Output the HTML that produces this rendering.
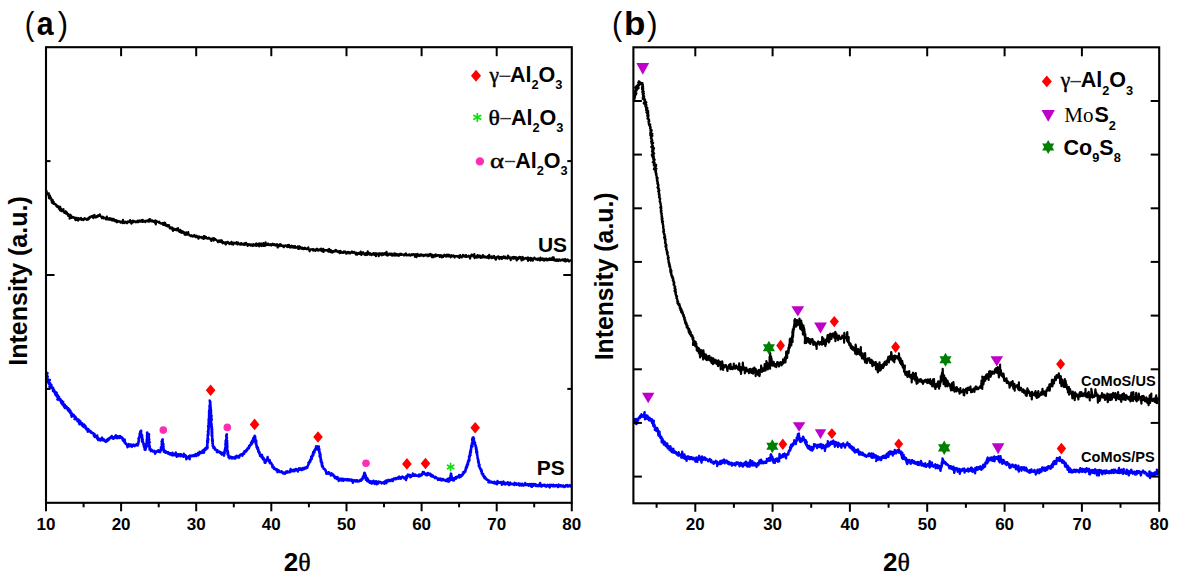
<!DOCTYPE html>
<html><head><meta charset="utf-8"><title>XRD</title>
<style>html,body{margin:0;padding:0;background:#fff;width:1184px;height:585px;overflow:hidden}svg{display:block}</style>
</head><body>
<svg width="1184" height="585" viewBox="0 0 1184 585">
<rect width="100%" height="100%" fill="#fff"/>
<defs><clipPath id="ca"><rect x="46.0" y="47.2" width="525.8" height="455.6"/></clipPath><clipPath id="cb"><rect x="633.4" y="47.3" width="525.8" height="456.0"/></clipPath></defs>
<path clip-path="url(#ca)" d="M45.7 192.1L46.7 191.2L46.6 192.2L46.5 192.8L47.3 193.4L48.9 193.3L47.7 193.7L47.6 194.3L48.1 193.9L48.5 193.7L48.8 194.7L48.7 195.0L48.5 193.7L48.9 196.8L50.0 195.5L49.1 196.9L49.1 196.1L48.9 197.8L49.8 197.1L49.5 197.7L50.0 196.9L50.9 197.6L50.0 198.5L50.9 198.5L49.4 198.5L51.5 199.0L51.3 200.6L51.3 200.1L51.6 200.9L52.8 200.3L52.3 202.8L51.8 202.5L52.5 199.8L53.2 202.7L53.7 202.1L53.7 201.8L52.9 201.8L53.8 203.1L53.4 201.9L53.2 203.5L53.8 203.9L54.8 203.8L55.3 203.9L55.5 204.0L55.5 204.0L55.2 204.5L56.1 204.8L56.5 204.8L56.2 206.0L56.2 204.8L57.2 206.2L58.2 206.6L57.5 205.9L57.2 207.0L57.7 206.4L59.2 206.7L60.2 206.8L60.1 206.7L58.8 208.7L59.6 208.0L60.0 210.4L59.8 207.8L60.1 210.5L60.9 208.5L60.2 208.8L61.6 210.1L61.3 209.1L61.5 210.0L63.5 209.2L62.6 210.0L61.4 211.1L62.3 211.2L63.1 211.2L63.7 211.3L64.8 211.6L63.6 211.7L65.6 211.2L64.4 212.9L65.0 211.7L65.9 213.2L65.2 212.6L65.4 212.6L66.5 212.8L66.0 213.6L66.9 212.3L66.9 213.6L67.4 214.0L67.7 214.9L67.9 213.8L69.0 214.6L68.0 215.3L68.3 215.9L68.9 215.1L69.1 215.7L70.1 215.4L69.8 216.0L69.6 218.6L71.1 216.5L70.3 214.7L71.7 216.6L71.5 216.7L71.5 217.5L70.8 216.1L72.7 216.9L71.5 218.0L73.5 217.0L73.0 217.1L73.8 217.6L74.0 218.0L75.2 217.6L74.3 218.2L74.6 218.2L75.2 219.2L75.5 220.2L75.9 218.2L76.2 218.7L76.6 217.8L77.0 219.8L77.3 219.6L77.7 218.8L78.1 220.6L78.5 218.1L78.8 219.0L79.2 219.3L79.6 218.6L79.9 218.5L80.3 219.4L80.7 218.2L81.0 217.8L81.4 219.2L81.8 219.9L82.1 219.1L82.5 219.5L82.8 219.2L83.2 218.9L83.5 220.1L83.9 218.7L84.2 218.7L84.6 218.1L85.0 219.0L85.3 218.9L85.7 218.6L86.0 219.1L86.4 219.6L86.7 219.8L87.1 218.8L87.4 219.6L87.8 219.6L88.1 219.1L88.5 217.8L88.8 219.1L89.1 218.1L89.4 217.4L89.7 216.8L90.0 217.3L90.2 217.6L90.5 216.6L90.8 216.9L91.1 217.0L91.4 216.4L91.7 216.7L92.0 216.2L92.4 215.8L92.7 215.8L93.1 217.8L93.4 218.0L93.8 216.2L94.1 215.1L94.5 214.8L94.8 217.1L95.2 216.2L95.5 216.9L95.9 217.5L96.3 216.8L96.6 216.1L97.0 216.7L97.3 216.4L97.7 216.8L98.0 215.3L98.4 215.4L98.7 215.7L99.1 216.0L99.4 215.8L99.8 214.4L100.1 215.1L100.4 216.2L100.7 216.2L101.1 216.6L101.4 217.1L101.7 216.8L102.0 218.2L102.4 216.9L102.7 216.7L103.0 217.6L103.4 217.3L103.7 218.5L104.0 217.5L104.3 218.3L104.7 218.0L105.0 217.8L105.4 218.5L105.7 218.6L106.1 219.4L106.4 217.9L106.8 216.5L107.1 219.1L107.5 219.4L107.8 218.9L108.2 218.5L108.5 219.0L108.9 218.6L109.2 219.8L109.6 219.2L109.9 218.1L110.3 219.4L110.6 218.7L111.0 218.9L111.3 220.2L111.7 220.3L112.0 218.7L112.4 219.1L112.8 219.7L113.1 220.7L113.5 219.7L113.8 219.0L114.2 220.5L114.5 220.5L114.8 220.0L115.2 221.4L115.5 220.9L115.9 220.1L116.2 221.5L116.6 221.4L117.0 222.3L117.3 221.6L117.7 220.7L118.0 221.4L118.4 221.1L118.7 221.7L119.1 221.1L119.4 221.3L119.8 221.6L120.1 221.4L120.5 222.6L120.8 222.0L121.2 221.7L121.5 221.7L121.9 222.6L122.3 222.4L122.6 223.0L123.0 219.8L123.3 222.8L123.7 222.3L124.0 223.2L124.4 222.4L124.7 222.0L125.1 222.4L125.5 221.6L125.8 221.9L126.2 222.8L126.5 223.1L126.9 222.9L127.2 223.2L127.6 222.6L127.9 221.3L128.3 221.3L128.6 221.9L129.0 221.7L129.4 221.6L129.7 222.1L130.1 220.2L130.4 221.9L130.8 221.3L131.1 223.0L131.5 223.6L131.8 222.1L132.2 220.8L132.6 222.5L132.9 222.1L133.3 220.7L133.7 222.1L134.0 221.4L134.4 221.2L134.8 221.6L135.2 221.7L135.5 221.3L135.9 222.3L136.3 221.5L136.6 222.2L137.0 221.5L137.4 221.9L137.7 220.6L138.1 222.2L138.4 221.1L138.8 222.0L139.1 220.9L139.5 220.5L139.8 220.9L140.2 220.8L140.6 221.5L140.9 220.6L141.3 220.2L141.6 221.0L142.0 220.1L142.3 222.0L142.7 219.8L143.0 221.8L143.4 221.5L143.7 221.0L144.1 220.8L144.5 221.2L144.8 221.2L145.2 222.2L145.5 220.9L145.9 221.1L146.2 220.9L146.6 220.7L146.9 221.1L147.3 221.4L147.6 220.4L148.0 220.3L148.4 220.6L148.7 221.6L149.1 220.6L149.4 219.1L149.8 221.4L150.1 220.4L150.5 219.4L150.8 220.6L151.2 221.1L151.5 221.3L151.9 221.3L152.2 221.4L152.6 220.4L152.9 220.9L153.3 221.8L153.6 221.1L154.0 221.4L154.3 221.5L154.7 222.1L155.0 223.0L155.4 220.4L155.8 224.4L156.1 220.8L156.4 221.4L156.8 222.0L157.1 222.0L157.5 221.5L157.8 221.8L158.2 222.1L158.6 222.0L158.9 222.7L159.3 221.7L159.6 222.5L160.0 223.1L160.3 223.0L160.7 223.3L161.0 223.7L161.4 223.3L161.7 223.6L162.1 223.2L162.4 223.2L162.8 223.1L163.1 224.9L163.5 224.7L163.8 223.2L164.2 222.7L164.5 224.9L164.8 225.2L165.1 222.9L165.5 224.9L165.8 225.5L166.1 224.6L166.4 225.4L166.7 226.0L167.0 225.0L167.3 225.1L167.6 226.2L168.0 226.5L168.3 226.4L168.6 226.5L168.9 225.1L169.2 226.2L169.5 226.8L169.8 228.4L170.2 227.2L170.5 227.3L170.8 228.3L171.1 228.2L171.4 227.9L171.7 228.0L172.0 227.5L172.3 229.6L172.7 228.1L173.0 230.9L173.3 228.4L173.6 229.3L174.0 228.6L174.3 228.9L174.7 229.8L175.1 229.2L175.4 229.5L175.8 230.0L176.2 228.9L176.5 229.5L176.9 230.3L177.3 228.7L177.6 230.2L178.0 228.2L178.3 230.0L178.7 231.2L179.0 231.4L179.3 230.4L179.7 232.0L180.0 230.6L180.3 229.8L180.7 231.9L181.0 231.2L181.3 232.9L181.6 231.1L182.0 231.0L182.3 232.3L182.6 232.0L183.0 232.9L183.3 232.8L183.6 231.7L184.0 232.4L184.3 232.4L184.6 234.7L184.9 233.9L185.3 233.5L185.6 233.1L185.9 234.9L186.2 232.4L186.6 234.3L186.9 233.4L187.2 233.6L187.6 234.7L187.9 232.8L188.2 232.1L188.5 233.9L188.9 234.5L189.2 234.9L189.5 235.4L189.9 235.3L190.2 235.5L190.5 236.0L190.9 235.3L191.2 235.2L191.6 236.0L191.9 236.0L192.2 236.5L192.6 235.8L192.9 235.7L193.2 236.1L193.6 236.4L193.9 235.9L194.3 234.9L194.6 236.1L195.0 236.7L195.3 236.7L195.7 237.0L196.0 235.9L196.4 236.4L196.7 235.7L197.1 236.3L197.4 237.4L197.8 236.9L198.2 237.0L198.5 238.7L198.9 236.4L199.2 236.5L199.6 237.3L199.9 237.4L200.3 237.3L200.6 237.1L201.0 236.9L201.4 237.6L201.7 237.6L202.1 238.2L202.4 237.4L202.8 238.3L203.1 236.8L203.5 238.8L203.8 236.1L204.2 236.7L204.6 236.2L204.9 238.3L205.3 237.1L205.6 237.6L206.0 236.9L206.3 237.4L206.7 238.2L207.0 238.5L207.4 238.2L207.7 238.7L208.1 238.1L208.5 238.5L208.8 237.7L209.2 238.0L209.5 238.4L209.9 238.4L210.3 239.3L210.6 239.7L211.0 239.2L211.4 241.0L211.7 239.0L212.1 238.4L212.4 238.6L212.8 239.0L213.1 238.5L213.5 238.2L213.8 240.6L214.2 239.0L214.5 238.4L214.9 239.2L215.2 239.3L215.5 239.2L215.9 239.9L216.2 240.1L216.6 240.3L216.9 240.4L217.3 241.0L217.6 241.2L217.9 242.1L218.3 240.8L218.6 241.4L219.0 240.3L219.3 240.7L219.6 241.2L220.0 242.0L220.3 241.1L220.6 240.6L221.0 240.2L221.3 241.4L221.7 242.3L222.0 240.5L222.3 242.6L222.7 243.3L223.0 243.1L223.3 242.2L223.7 242.2L224.0 243.0L224.4 242.9L224.7 243.3L225.1 242.8L225.4 242.3L225.8 244.5L226.1 242.4L226.5 243.3L226.8 243.0L227.2 242.7L227.5 241.9L227.9 241.9L228.2 242.9L228.6 243.3L229.0 243.5L229.3 244.0L229.7 243.0L230.0 243.8L230.4 243.3L230.7 243.1L231.1 243.0L231.4 241.8L231.8 244.2L232.2 243.2L232.5 242.6L232.9 242.8L233.2 244.7L233.6 242.8L233.9 242.8L234.3 243.4L234.6 243.2L235.0 242.7L235.4 243.2L235.7 243.6L236.1 243.4L236.4 243.3L236.8 242.2L237.1 244.1L237.5 244.5L237.8 243.9L238.2 242.6L238.5 243.2L238.9 243.6L239.3 244.0L239.6 244.4L240.0 244.6L240.3 244.3L240.7 243.5L241.0 244.6L241.4 243.1L241.7 243.8L242.1 244.2L242.4 243.8L242.8 244.5L243.2 243.8L243.5 244.6L243.9 244.0L244.2 245.0L244.6 243.2L244.9 243.5L245.3 244.6L245.6 244.1L246.0 242.9L246.3 244.3L246.7 243.6L247.0 243.9L247.3 243.9L247.7 246.0L248.0 244.6L248.3 244.1L248.7 244.4L249.0 244.6L249.4 244.4L249.7 245.2L250.0 244.4L250.4 244.6L250.7 245.6L251.1 244.4L251.4 245.0L251.8 244.9L252.1 245.3L252.5 245.7L252.8 246.0L253.2 244.1L253.5 245.4L253.9 245.0L254.2 245.4L254.6 245.1L255.0 244.5L255.3 245.5L255.7 244.4L256.0 243.6L256.4 245.9L256.7 243.6L257.1 244.8L257.4 245.4L257.8 244.2L258.2 244.6L258.5 245.1L258.9 243.5L259.2 246.3L259.6 245.3L259.9 243.4L260.3 245.3L260.6 244.1L261.0 244.8L261.4 246.0L261.7 243.6L262.1 245.4L262.4 244.1L262.8 245.6L263.1 245.8L263.5 243.0L263.8 244.8L264.2 245.9L264.5 244.7L264.9 243.8L265.3 245.6L265.6 242.4L266.0 244.4L266.3 244.4L266.7 244.5L267.0 245.1L267.4 244.0L267.7 244.9L268.1 243.6L268.4 244.5L268.8 244.7L269.2 245.2L269.5 244.5L269.9 244.3L270.2 244.2L270.6 245.2L270.9 244.3L271.3 245.5L271.6 244.8L272.0 245.1L272.4 244.6L272.7 243.7L273.1 244.8L273.4 244.7L273.8 244.8L274.1 245.2L274.5 244.2L274.8 244.3L275.2 244.7L275.6 245.5L275.9 244.9L276.3 245.1L276.6 244.7L277.0 244.2L277.3 245.4L277.7 247.5L278.0 245.1L278.4 246.4L278.7 244.8L279.1 244.7L279.5 246.2L279.8 245.5L280.2 244.2L280.5 244.9L280.9 244.5L281.2 245.8L281.6 245.9L281.9 246.0L282.3 246.0L282.6 246.2L283.0 245.5L283.4 246.0L283.7 247.2L284.1 246.7L284.4 245.9L284.8 245.9L285.1 245.4L285.5 245.5L285.8 245.9L286.2 245.6L286.6 246.5L286.9 246.5L287.2 247.0L287.6 245.0L287.9 246.6L288.3 247.0L288.6 246.9L289.0 244.8L289.3 246.9L289.7 245.8L290.1 247.6L290.4 247.5L290.8 246.1L291.1 245.9L291.4 247.0L291.8 245.7L292.1 247.4L292.5 246.3L292.8 246.9L293.2 247.2L293.6 247.7L293.9 246.0L294.3 247.6L294.6 246.9L295.0 246.1L295.3 246.9L295.7 247.8L296.0 247.5L296.4 247.4L296.8 247.5L297.1 247.6L297.5 247.8L297.8 246.4L298.2 248.9L298.5 248.9L298.9 247.1L299.2 246.3L299.6 248.6L299.9 247.6L300.3 247.0L300.6 247.9L301.0 247.3L301.3 248.4L301.7 248.9L302.0 248.6L302.4 247.7L302.7 247.8L303.0 248.6L303.4 249.2L303.7 248.7L304.1 248.7L304.4 247.9L304.8 248.9L305.1 247.8L305.5 248.6L305.8 248.4L306.2 248.6L306.5 249.1L306.9 249.2L307.2 248.4L307.6 249.2L307.9 249.2L308.3 247.4L308.6 249.2L309.0 249.5L309.3 250.2L309.7 251.3L310.1 249.5L310.4 249.3L310.8 249.5L311.1 249.4L311.5 249.5L311.8 249.4L312.2 249.2L312.5 250.2L312.9 249.8L313.2 250.7L313.6 249.0L313.9 249.7L314.3 249.9L314.6 250.4L315.0 250.2L315.4 250.8L315.7 249.9L316.1 249.2L316.4 250.2L316.8 249.8L317.1 248.7L317.5 250.1L317.9 250.1L318.2 250.7L318.6 250.1L318.9 249.4L319.3 249.4L319.7 250.1L320.0 250.1L320.4 250.4L320.7 249.0L321.1 248.6L321.5 249.6L321.8 250.4L322.2 251.4L322.5 249.6L322.9 250.4L323.2 248.9L323.6 251.9L323.9 249.7L324.3 249.8L324.6 250.7L325.0 250.5L325.3 250.5L325.7 250.1L326.0 250.0L326.4 250.5L326.7 250.6L327.1 250.2L327.4 249.9L327.8 249.8L328.1 251.2L328.5 251.6L328.8 249.9L329.2 249.0L329.5 250.3L329.9 249.8L330.2 252.0L330.6 252.1L330.9 250.0L331.3 250.7L331.6 251.4L332.0 250.8L332.3 252.6L332.7 251.0L333.0 252.2L333.4 251.0L333.7 251.4L334.1 251.4L334.4 251.2L334.8 251.5L335.1 251.1L335.5 250.0L335.8 251.2L336.1 250.1L336.5 251.1L336.8 250.7L337.2 251.6L337.5 251.9L337.9 251.7L338.2 251.7L338.6 252.0L338.9 251.1L339.3 252.3L339.6 253.2L340.0 252.2L340.3 250.8L340.7 251.3L341.0 252.9L341.4 252.0L341.7 252.5L342.1 252.2L342.4 252.5L342.8 252.3L343.1 252.9L343.5 252.1L343.8 251.5L344.2 252.3L344.5 251.6L344.9 251.3L345.2 252.0L345.6 253.2L345.9 252.1L346.3 253.7L346.6 252.3L347.0 252.3L347.3 252.7L347.7 253.1L348.0 251.8L348.4 252.2L348.7 252.2L349.1 253.1L349.4 253.0L349.8 252.2L350.1 253.5L350.5 252.6L350.8 252.7L351.2 252.6L351.5 252.3L351.9 251.5L352.2 252.7L352.6 252.8L352.9 252.8L353.3 252.5L353.6 252.7L354.0 251.8L354.3 252.7L354.7 252.5L355.0 252.7L355.4 253.3L355.8 254.5L356.1 252.6L356.5 253.0L356.8 253.1L357.2 254.7L357.5 253.4L357.9 253.7L358.2 253.1L358.6 252.8L358.9 253.9L359.3 252.9L359.6 253.9L360.0 252.9L360.3 253.2L360.7 251.5L361.0 252.7L361.4 255.0L361.7 253.4L362.1 252.8L362.4 252.6L362.8 253.7L363.2 252.2L363.5 253.4L363.9 253.2L364.2 253.8L364.6 254.7L364.9 254.1L365.3 255.1L365.6 254.5L366.0 253.1L366.3 254.1L366.7 254.6L367.0 254.9L367.4 254.2L367.7 251.4L368.1 254.2L368.4 252.4L368.8 254.0L369.1 254.2L369.5 254.5L369.8 253.8L370.2 253.2L370.5 254.7L370.9 253.8L371.3 254.2L371.6 255.2L372.0 254.1L372.3 254.0L372.7 253.7L373.0 254.4L373.4 253.0L373.7 254.3L374.1 253.6L374.4 254.9L374.8 253.4L375.1 254.2L375.5 253.5L375.9 256.1L376.2 253.4L376.6 253.3L376.9 253.4L377.3 254.2L377.6 254.1L378.0 254.5L378.3 254.1L378.7 256.2L379.0 253.4L379.4 255.3L379.7 253.4L380.1 253.6L380.5 254.4L380.8 253.7L381.2 253.8L381.5 253.3L381.9 255.4L382.2 253.3L382.6 254.4L382.9 253.8L383.3 253.5L383.6 254.8L384.0 254.3L384.3 253.9L384.7 253.2L385.0 253.8L385.4 254.6L385.8 254.7L386.1 253.7L386.5 251.8L386.8 255.1L387.2 255.6L387.5 255.4L387.9 254.8L388.2 253.7L388.6 255.2L388.9 254.6L389.3 254.7L389.6 253.6L390.0 254.3L390.4 253.6L390.7 254.2L391.1 255.1L391.4 255.3L391.8 253.6L392.1 254.6L392.5 254.7L392.8 255.6L393.2 255.4L393.5 254.7L393.9 254.8L394.2 253.4L394.6 255.2L395.0 255.6L395.3 253.9L395.7 253.7L396.0 253.9L396.4 255.3L396.7 254.1L397.1 254.3L397.4 255.4L397.8 254.6L398.1 254.3L398.5 254.3L398.8 255.8L399.2 254.6L399.5 255.1L399.9 253.8L400.2 254.9L400.6 253.8L400.9 254.3L401.3 253.9L401.6 254.9L402.0 254.2L402.3 254.7L402.7 254.7L403.1 254.5L403.4 254.7L403.8 255.3L404.1 254.6L404.5 255.3L404.8 255.1L405.2 253.8L405.5 254.1L405.9 253.4L406.2 254.6L406.6 255.5L406.9 255.4L407.3 255.0L407.6 255.1L408.0 254.7L408.3 254.6L408.7 254.9L409.0 255.3L409.4 254.3L409.7 254.6L410.1 254.7L410.5 255.7L410.8 255.4L411.2 254.9L411.5 254.4L411.9 254.8L412.2 254.2L412.6 255.2L412.9 254.4L413.3 254.1L413.6 254.6L414.0 254.2L414.3 254.9L414.7 255.2L415.0 256.8L415.4 254.3L415.7 255.4L416.1 254.3L416.4 257.2L416.8 255.0L417.1 254.9L417.5 253.8L417.8 255.8L418.2 255.0L418.6 255.7L418.9 255.4L419.3 256.0L419.6 254.9L420.0 254.8L420.3 254.4L420.7 255.8L421.0 254.9L421.4 254.4L421.7 254.7L422.1 255.3L422.4 255.3L422.8 255.3L423.2 254.9L423.5 256.2L423.9 255.6L424.2 255.2L424.6 255.6L424.9 255.6L425.3 254.6L425.6 254.9L426.0 255.0L426.3 255.5L426.7 255.0L427.0 254.6L427.4 254.5L427.8 254.7L428.1 256.3L428.5 255.6L428.8 254.6L429.2 255.8L429.5 255.0L429.9 254.8L430.2 253.9L430.6 255.0L430.9 254.3L431.3 255.1L431.6 256.5L432.0 257.2L432.3 254.9L432.7 256.5L433.1 255.8L433.4 257.2L433.8 256.4L434.1 255.2L434.5 255.0L434.8 255.6L435.2 256.4L435.5 255.1L435.9 254.4L436.2 255.0L436.6 255.4L436.9 256.0L437.3 255.6L437.7 255.0L438.0 255.1L438.4 255.3L438.7 255.2L439.1 255.8L439.4 255.4L439.8 256.9L440.1 255.3L440.5 256.6L440.8 255.2L441.2 255.5L441.5 256.8L441.9 257.4L442.3 255.9L442.6 256.5L443.0 255.6L443.3 256.9L443.7 256.0L444.0 255.2L444.4 254.7L444.7 255.8L445.1 256.0L445.4 255.7L445.8 256.4L446.1 256.6L446.5 254.9L446.8 256.2L447.2 255.6L447.5 254.7L447.9 255.2L448.2 256.5L448.6 255.5L448.9 254.7L449.3 256.1L449.6 256.0L450.0 256.3L450.4 256.4L450.7 257.3L451.1 255.2L451.4 255.3L451.8 256.4L452.1 256.1L452.5 255.9L452.8 256.4L453.2 256.2L453.5 255.4L453.9 256.1L454.2 256.8L454.6 257.5L454.9 256.2L455.3 256.2L455.6 256.5L456.0 256.5L456.3 255.9L456.7 256.2L457.0 256.1L457.4 256.6L457.8 256.2L458.1 256.2L458.5 257.4L458.8 256.9L459.2 255.7L459.5 257.8L459.9 256.4L460.2 255.1L460.6 256.6L460.9 256.3L461.3 256.3L461.6 257.5L462.0 256.6L462.3 256.1L462.7 256.7L463.0 254.8L463.4 256.1L463.7 255.7L464.1 256.4L464.4 256.5L464.8 256.3L465.1 255.3L465.5 257.0L465.9 256.9L466.2 255.2L466.6 256.8L466.9 256.8L467.3 256.7L467.6 256.5L468.0 256.6L468.3 256.3L468.7 255.7L469.0 256.3L469.4 256.2L469.7 256.5L470.1 258.6L470.5 256.6L470.8 255.9L471.2 256.1L471.5 254.5L471.9 255.6L472.2 255.2L472.6 255.5L472.9 255.8L473.3 256.6L473.6 254.5L474.0 256.0L474.3 254.2L474.7 258.1L475.1 256.4L475.4 256.4L475.8 256.7L476.1 256.4L476.5 257.6L476.8 257.4L477.2 256.8L477.5 255.2L477.9 257.4L478.2 256.1L478.6 256.8L478.9 255.5L479.3 256.3L479.6 255.8L480.0 255.6L480.4 257.8L480.7 257.0L481.1 256.8L481.4 257.0L481.8 257.7L482.1 256.1L482.5 256.0L482.8 255.1L483.2 257.1L483.5 255.5L483.9 256.3L484.2 257.4L484.6 257.0L485.0 256.8L485.3 256.7L485.7 257.4L486.0 256.7L486.4 257.6L486.7 257.0L487.1 257.1L487.4 257.5L487.8 256.1L488.1 256.8L488.5 257.5L488.8 258.4L489.2 254.9L489.6 257.4L489.9 256.4L490.3 257.4L490.6 257.3L491.0 256.8L491.3 257.4L491.7 258.2L492.0 256.4L492.4 257.1L492.7 257.1L493.1 256.7L493.4 257.7L493.8 256.6L494.1 256.0L494.5 256.9L494.8 258.1L495.2 257.3L495.5 259.4L495.9 259.7L496.2 258.4L496.6 257.4L496.9 257.0L497.3 257.6L497.7 256.7L498.0 256.5L498.4 256.4L498.7 257.5L499.1 258.4L499.4 259.0L499.8 257.0L500.1 257.7L500.5 257.1L500.8 258.0L501.2 257.0L501.5 257.7L501.9 259.0L502.2 257.1L502.6 258.3L502.9 257.3L503.3 257.3L503.6 256.4L504.0 258.0L504.3 257.4L504.7 257.1L505.1 256.6L505.4 258.4L505.8 258.1L506.1 257.9L506.5 257.7L506.8 258.2L507.2 257.3L507.5 258.6L507.9 255.6L508.2 256.9L508.6 256.4L508.9 257.4L509.3 257.8L509.6 257.6L510.0 258.7L510.3 257.6L510.7 260.2L511.0 257.6L511.4 258.0L511.7 257.8L512.1 257.4L512.4 257.7L512.8 257.1L513.2 258.8L513.5 256.9L513.9 257.1L514.2 257.4L514.6 258.4L514.9 257.1L515.3 258.3L515.6 257.4L516.0 257.2L516.3 259.0L516.7 260.5L517.0 258.2L517.4 258.1L517.8 257.6L518.1 259.1L518.5 257.7L518.8 258.3L519.2 257.8L519.5 256.8L519.9 257.4L520.2 258.3L520.6 257.1L520.9 258.5L521.3 258.6L521.6 260.5L522.0 257.6L522.4 257.8L522.7 257.0L523.1 257.6L523.4 259.6L523.8 258.8L524.1 259.1L524.5 258.4L524.8 258.5L525.2 258.5L525.5 257.9L525.9 258.5L526.2 258.3L526.6 258.8L526.9 258.6L527.3 257.6L527.7 259.1L528.0 260.9L528.4 257.7L528.7 259.4L529.1 259.9L529.4 259.7L529.8 259.6L530.1 258.9L530.5 257.8L530.8 260.6L531.2 258.2L531.5 258.4L531.9 258.6L532.3 259.7L532.6 258.9L533.0 260.7L533.3 258.4L533.7 259.2L534.0 258.7L534.4 257.6L534.7 258.7L535.1 258.8L535.4 258.6L535.8 258.8L536.1 259.5L536.5 259.2L536.9 258.8L537.2 259.1L537.6 260.1L537.9 258.7L538.3 258.4L538.6 259.5L539.0 259.2L539.3 259.3L539.7 260.2L540.0 260.5L540.4 257.6L540.7 259.1L541.1 258.9L541.4 259.3L541.8 259.8L542.1 259.6L542.5 258.4L542.8 259.0L543.2 260.3L543.5 258.9L543.9 259.1L544.2 260.6L544.6 258.8L544.9 260.3L545.3 258.9L545.6 259.5L546.0 259.2L546.3 258.6L546.7 260.2L547.0 260.4L547.4 259.2L547.7 259.0L548.1 260.1L548.4 259.5L548.8 259.0L549.1 259.9L549.5 258.4L549.8 259.2L550.2 259.9L550.5 259.9L550.9 259.5L551.2 258.5L551.6 259.4L551.9 259.9L552.3 259.8L552.6 257.3L553.0 259.9L553.3 260.0L553.7 257.3L554.0 259.8L554.4 260.2L554.7 259.4L555.1 260.8L555.4 259.7L555.8 260.1L556.1 259.7L556.5 260.9L556.8 259.4L557.2 259.9L557.5 259.7L557.9 260.2L558.2 261.0L558.6 259.5L558.9 260.1L559.3 259.9L559.6 259.4L560.0 260.7L560.3 260.7L560.7 260.6L561.0 260.5L561.4 260.1L561.7 259.9L562.1 259.4L562.4 259.8L562.8 260.4L563.1 260.4L563.5 259.4L563.8 260.1L564.2 260.6L564.5 261.1L564.9 260.0L565.2 259.0L565.6 261.3L565.9 259.7L566.3 259.9L566.6 261.2L567.0 260.9L567.3 260.4L567.7 259.5L568.0 259.9L568.4 260.4L568.7 260.6L569.1 261.5L569.4 261.2L569.8 260.9L570.1 260.3L570.5 261.0" fill="none" stroke="#000" stroke-width="2.2" stroke-linejoin="round"/>
<path clip-path="url(#ca)" d="M46.3 372.9L45.3 373.4L47.5 372.9L46.4 373.3L47.5 373.2L46.4 375.8L47.0 374.7L47.0 374.5L46.3 376.0L47.2 375.8L47.8 376.6L46.7 376.2L45.9 377.4L45.8 377.4L47.1 379.1L46.1 378.0L47.3 377.7L47.5 376.4L46.5 380.0L47.0 378.1L47.9 379.2L47.6 379.9L49.9 380.0L48.0 381.5L48.3 380.1L49.1 381.1L48.3 382.4L47.7 382.4L50.2 383.0L48.6 382.3L49.0 383.1L48.9 383.5L48.9 384.0L49.8 384.4L49.5 384.1L50.1 386.4L51.5 384.8L51.3 385.5L51.0 387.3L50.7 386.3L50.3 386.1L51.1 387.0L49.4 386.6L50.4 387.6L52.7 387.4L52.3 388.1L52.7 389.0L52.1 387.9L53.4 388.4L52.7 389.6L52.8 389.2L53.6 390.1L53.0 391.1L54.2 390.1L53.0 389.6L53.2 390.4L54.0 390.8L54.4 391.0L54.8 391.5L55.1 391.8L54.9 391.6L56.7 392.7L54.4 392.5L55.3 392.8L55.5 392.9L55.1 393.8L55.5 394.6L56.1 394.7L56.0 394.3L55.6 395.2L57.0 394.4L58.0 395.5L57.9 395.5L58.0 397.7L57.2 395.7L56.9 396.5L58.2 397.0L56.6 395.2L58.5 398.2L57.6 397.6L59.1 396.9L58.8 397.6L57.4 399.5L59.9 398.6L60.4 399.1L59.2 400.1L60.3 400.6L60.8 400.8L61.2 401.4L60.2 400.2L61.9 401.0L61.3 400.5L60.7 400.0L62.0 402.3L63.3 401.9L61.1 402.1L61.1 402.8L62.4 402.7L62.2 403.3L62.9 402.7L62.5 404.5L63.1 404.4L62.4 403.6L64.8 404.7L62.0 403.9L64.2 405.6L63.6 405.9L64.8 407.9L63.8 404.8L66.0 407.8L66.6 406.6L66.9 407.0L65.2 406.4L65.7 406.5L66.2 407.7L66.6 406.6L65.8 408.0L67.5 408.0L67.2 408.8L68.6 409.3L68.3 408.3L67.5 409.6L68.7 409.2L68.4 410.7L69.3 409.2L69.3 409.4L68.2 410.4L69.0 411.3L70.5 410.8L69.0 411.3L70.5 413.3L69.8 411.1L69.8 412.1L70.7 412.3L70.7 413.3L71.5 412.5L71.6 414.2L71.7 413.4L71.3 415.3L71.6 414.9L72.6 414.8L72.9 414.6L74.0 415.4L73.7 414.7L71.8 416.8L71.5 415.6L71.9 416.4L71.6 416.7L73.2 416.2L74.6 416.8L75.3 416.5L76.7 418.8L75.2 418.4L74.5 419.2L75.9 417.7L75.1 418.9L75.7 418.6L76.1 419.3L77.1 419.5L77.5 419.6L78.1 419.9L78.3 419.4L78.8 421.1L77.4 420.7L77.4 421.2L77.8 420.6L79.2 420.3L80.3 421.1L78.6 421.1L79.4 424.3L80.3 421.6L81.7 423.9L79.9 423.4L80.9 423.7L80.9 423.3L81.6 423.4L82.6 424.8L82.3 424.9L82.2 423.1L82.3 423.9L81.9 425.3L81.4 424.0L83.2 424.4L83.9 425.3L84.6 425.3L82.7 426.3L84.2 424.4L85.4 426.8L85.5 426.3L85.4 425.9L83.9 427.0L85.6 426.5L85.7 427.6L84.9 427.2L86.1 427.3L85.9 427.2L85.5 428.2L87.4 429.4L86.3 429.5L87.8 429.0L87.6 428.8L87.7 431.8L88.7 429.6L87.8 429.7L88.4 429.1L88.1 430.3L90.1 431.4L89.2 431.3L89.6 430.6L89.8 431.7L89.0 431.3L90.8 431.3L91.4 432.1L92.1 432.5L92.0 432.4L91.4 433.0L90.7 432.3L92.9 433.1L92.8 433.4L93.6 434.0L94.5 433.9L93.8 433.6L93.9 435.9L95.0 435.1L94.8 435.6L93.9 434.3L94.6 436.0L94.7 437.0L93.8 435.5L94.7 435.9L96.2 436.4L97.0 437.2L97.2 435.4L96.8 436.6L97.9 437.5L98.2 440.1L97.8 438.8L97.7 437.9L97.8 437.4L96.9 438.4L98.7 439.5L99.4 439.3L98.5 438.4L100.2 440.4L99.2 439.0L100.6 439.1L100.5 440.1L100.8 440.4L101.1 439.9L101.3 438.5L102.0 437.6L102.8 439.5L101.9 439.1L103.0 440.4L103.3 439.8L103.7 440.4L103.8 439.1L104.4 440.0L105.0 441.4L105.1 441.1L105.9 441.9L106.2 440.8L106.6 440.2L106.6 440.5L106.9 439.8L107.5 441.0L108.1 438.8L107.8 439.1L108.0 440.5L108.7 439.7L108.8 439.0L109.0 439.7L109.6 438.6L109.7 437.9L109.3 438.1L110.2 437.7L109.9 438.6L110.7 436.9L111.0 437.5L111.7 435.9L111.9 437.0L112.1 437.7L112.5 438.4L113.1 437.9L113.3 437.1L113.8 438.7L113.9 437.6L114.4 437.7L114.7 437.1L115.4 435.7L116.0 435.2L116.3 436.6L116.3 438.0L116.9 437.1L117.6 438.2L117.3 436.3L117.8 437.3L118.2 436.5L118.7 436.4L119.1 437.5L119.5 437.3L119.4 438.0L119.9 435.9L120.4 436.8L120.5 437.6L121.2 436.9L121.4 437.1L121.8 438.5L121.6 438.4L122.1 437.9L122.2 437.4L122.7 438.3L122.9 439.3L122.8 440.5L123.0 439.8L123.3 440.1L123.4 440.4L124.0 439.7L123.8 441.3L124.2 440.9L124.7 442.5L124.7 439.4L125.0 442.5L124.6 442.7L125.2 442.7L125.6 443.3L125.4 442.7L125.8 444.1L126.0 444.1L125.9 443.4L126.5 444.5L127.0 445.0L127.0 444.7L127.5 447.2L128.5 444.1L128.6 445.4L128.7 446.2L128.7 446.1L128.7 445.4L129.7 445.1L129.6 444.5L130.0 446.2L130.7 445.8L130.9 444.5L131.8 446.9L131.7 445.8L132.3 446.1L132.8 445.1L133.4 444.4L133.4 445.6L133.6 445.7L134.2 445.5L134.6 446.0L134.7 446.2L134.9 445.9L135.1 445.1L136.0 445.3L136.1 444.8L136.6 445.2L136.5 444.0L136.9 444.2L137.8 445.5L137.4 444.7L138.0 444.5L138.2 444.5L138.1 443.7L138.1 443.4L138.5 443.1L138.6 442.5L138.3 442.3L138.6 440.7L138.6 441.8L139.0 440.7L138.7 440.3L138.8 441.8L138.9 439.5L138.9 438.3L139.1 439.6L138.4 438.7L139.0 439.9L139.1 438.6L139.1 438.1L138.9 437.5L139.3 437.3L139.2 437.5L139.5 437.5L139.2 437.3L139.4 436.2L139.9 435.4L139.6 434.7L139.9 436.8L140.1 434.2L139.7 433.3L140.1 434.3L140.2 431.7L140.2 434.1L140.4 432.8L140.5 433.0L140.2 431.8L140.9 430.8L141.0 431.3L141.0 432.7L141.2 430.8L140.9 431.4L141.2 433.4L140.9 433.9L141.3 434.0L141.4 434.8L141.4 434.8L141.2 434.3L142.1 435.2L141.3 435.2L141.8 435.8L142.1 436.4L142.3 437.1L141.7 437.7L142.3 437.1L142.1 437.8L142.1 438.0L142.2 438.5L142.4 439.7L142.1 438.8L142.1 441.7L142.5 439.6L142.2 439.6L142.5 441.2L142.8 439.2L142.7 440.3L142.7 441.2L142.7 441.3L143.2 442.4L143.1 442.1L143.3 442.7L143.3 442.7L143.3 443.7L143.8 443.6L143.4 444.3L143.7 445.2L143.6 444.2L143.8 446.2L144.5 446.3L144.1 446.2L144.2 445.6L144.0 446.9L144.9 446.7L144.6 447.3L145.0 448.4L145.0 446.4L144.5 449.3L145.2 448.6L145.7 448.8L145.5 449.9L145.1 449.8L145.9 448.6L145.9 447.3L145.5 448.5L145.6 447.5L146.0 446.2L145.7 446.6L145.8 447.2L146.1 446.5L146.2 445.4L146.7 445.5L146.4 447.4L146.4 445.3L146.2 445.3L146.3 444.1L146.2 443.8L146.6 443.5L146.2 443.8L146.5 442.9L146.8 442.4L146.6 441.1L146.8 441.8L147.3 441.4L147.1 441.4L146.9 439.2L147.0 441.6L146.7 439.6L147.1 440.8L147.2 439.7L147.3 439.5L147.3 438.9L146.9 437.7L147.6 436.6L147.1 437.4L146.9 435.9L147.4 437.9L147.2 436.2L147.0 436.3L147.0 435.6L147.6 435.1L147.9 435.0L147.1 434.6L147.3 434.5L147.2 434.6L147.4 434.2L147.2 432.4L147.0 433.1L147.9 433.7L148.8 434.0L148.4 434.4L148.6 434.0L149.1 434.3L148.9 435.0L148.4 435.5L148.6 435.0L148.7 435.6L148.7 437.2L149.0 436.1L148.8 437.8L148.6 437.8L148.7 438.0L148.7 437.5L149.3 439.3L148.7 439.2L148.2 440.0L148.6 439.8L148.5 439.5L149.1 440.1L148.9 440.8L149.4 441.6L148.6 441.5L149.0 441.6L149.1 442.0L149.8 442.3L148.9 442.3L149.2 443.9L149.1 442.6L148.7 443.7L149.3 443.6L149.2 443.8L148.7 446.2L149.5 445.4L149.8 446.1L149.3 446.4L149.3 447.0L149.5 447.0L149.5 448.5L149.8 447.0L149.6 448.1L149.5 447.4L150.0 447.9L149.5 449.6L150.3 449.7L150.1 448.9L150.8 449.5L150.6 449.8L150.6 449.8L150.8 451.2L151.7 449.8L151.6 449.7L152.2 450.4L152.7 451.6L152.8 451.6L153.3 451.2L153.9 450.9L153.5 451.4L154.2 450.8L154.5 451.0L155.1 453.8L155.7 452.2L155.8 451.9L156.2 451.9L156.6 452.0L156.3 451.4L157.2 451.7L157.7 450.9L157.5 451.2L158.5 451.7L158.3 450.1L158.7 450.6L158.9 451.2L159.5 450.6L159.8 451.5L160.1 452.2L160.4 450.9L160.7 449.6L160.9 450.8L161.2 449.0L161.2 450.0L160.7 449.3L160.9 448.7L161.0 447.2L160.9 448.1L161.2 447.9L161.3 448.0L161.5 447.4L161.7 447.3L161.6 446.5L161.7 446.0L162.2 446.3L162.0 445.5L161.8 444.9L162.0 444.6L161.6 444.3L162.1 444.8L161.8 441.9L161.8 443.0L162.3 442.1L162.2 443.6L162.3 441.7L162.0 441.8L162.0 441.0L161.6 441.5L162.2 440.4L162.0 440.5L162.3 439.6L162.8 439.3L162.4 439.9L162.2 440.7L162.6 441.8L162.4 441.6L162.8 441.0L162.7 441.8L162.3 440.5L162.5 442.9L162.8 443.4L162.8 442.6L162.6 444.2L163.3 444.0L162.7 444.4L163.0 444.2L163.5 444.1L163.2 446.0L162.8 445.3L162.8 446.1L163.1 446.0L163.4 447.1L163.3 447.1L163.6 446.5L163.4 446.8L163.4 448.7L163.7 448.4L163.2 449.1L163.6 448.6L163.5 450.4L163.6 448.9L163.5 449.0L163.8 450.8L163.9 451.0L163.8 449.6L163.8 451.8L164.5 450.7L165.3 451.5L165.1 450.7L165.4 452.7L165.9 452.4L165.9 451.3L166.5 451.9L166.4 452.3L167.0 452.5L167.6 453.4L167.8 452.3L168.3 452.2L168.4 453.7L168.6 453.4L169.3 453.3L169.4 453.1L169.8 454.4L170.3 453.2L170.9 454.5L171.0 453.9L171.3 455.0L171.2 453.8L171.7 453.7L172.0 455.0L172.4 455.4L172.5 452.6L172.8 454.6L172.8 454.8L174.0 454.9L174.1 453.9L174.5 455.4L174.9 454.0L175.1 454.9L175.8 452.5L175.8 454.9L176.3 455.7L177.1 455.7L176.8 456.8L177.3 455.0L177.6 454.2L178.1 455.4L178.8 454.3L178.5 456.0L179.0 455.3L179.3 454.6L180.0 454.3L180.7 455.8L180.7 456.4L181.0 454.3L181.5 455.8L181.3 455.0L181.7 455.6L182.6 455.9L182.2 455.9L182.9 455.0L183.4 456.9L183.8 453.6L183.9 455.6L184.7 455.6L185.0 456.2L185.4 455.2L185.4 456.3L185.4 456.7L186.0 455.8L186.3 459.3L186.6 456.8L186.6 457.3L187.7 456.9L188.0 457.2L188.1 458.1L188.1 457.5L188.7 456.3L189.1 457.4L189.7 456.7L189.7 459.2L189.7 457.0L190.0 455.5L190.9 456.0L191.2 455.8L191.3 455.8L191.7 456.3L191.9 455.4L192.5 456.0L192.8 455.7L193.3 456.2L193.8 455.6L194.2 455.2L194.0 455.1L194.5 456.1L194.6 455.1L195.3 454.7L195.6 454.0L196.0 455.5L196.4 456.1L196.4 454.1L197.0 455.2L197.0 455.4L197.7 453.8L197.9 453.0L198.2 452.8L198.6 453.5L198.8 453.4L198.5 455.2L199.9 452.6L199.8 451.7L200.0 452.8L200.7 453.2L200.8 452.7L201.0 452.4L202.2 452.9L202.4 450.6L202.3 451.7L202.4 451.4L203.4 451.3L202.8 451.0L203.3 451.8L203.5 449.7L204.0 452.7L204.4 449.6L204.9 449.4L204.9 450.0L204.9 450.3L204.8 449.6L205.6 448.7L205.3 448.3L206.0 449.5L206.2 448.7L206.3 449.2L206.8 446.3L207.7 447.7L207.2 445.7L207.2 447.9L207.3 448.4L207.3 446.3L207.5 445.3L207.2 445.0L207.2 445.6L207.5 445.0L207.1 444.9L207.3 444.0L207.3 443.3L207.7 443.0L207.3 443.2L207.4 443.2L208.0 442.1L207.2 442.8L207.2 441.2L208.0 440.8L207.5 438.6L207.8 439.8L207.2 440.5L208.0 438.9L207.8 440.6L207.9 437.9L207.7 438.8L208.3 439.7L208.2 438.6L207.6 437.6L207.9 437.2L208.0 439.5L207.8 436.4L208.2 435.3L207.6 435.5L207.7 435.9L207.9 435.5L207.7 435.3L207.7 434.4L208.5 434.4L208.4 434.0L208.0 433.5L208.0 434.1L208.2 432.8L208.1 432.7L208.6 433.0L207.8 431.5L208.5 431.4L208.2 431.7L208.5 430.4L208.0 432.1L208.3 430.2L208.6 430.6L208.2 429.4L208.9 428.4L208.8 429.0L208.3 427.6L208.5 427.4L208.3 427.7L208.2 425.9L208.7 426.6L208.4 427.1L208.8 425.9L208.1 426.2L209.2 426.0L208.9 424.7L208.6 423.2L208.6 424.9L208.6 423.7L208.5 423.7L209.1 423.1L208.6 422.3L208.9 423.1L208.7 422.4L209.1 421.5L208.7 421.2L208.7 421.0L208.5 419.9L209.0 419.6L208.6 420.6L209.0 420.2L209.1 419.1L209.0 417.5L209.0 418.5L209.0 417.9L209.1 419.2L208.8 418.0L209.1 416.8L209.1 417.8L209.0 416.0L209.5 415.0L209.3 413.9L209.0 416.3L209.0 414.8L209.3 415.2L209.1 413.1L209.3 414.3L209.5 413.3L209.4 413.8L208.9 413.0L209.2 412.5L210.1 412.3L209.4 411.9L209.1 411.7L209.5 411.5L209.0 411.5L209.3 410.0L209.7 410.3L210.1 408.7L209.5 410.2L209.8 409.7L209.5 408.8L209.8 409.2L209.6 407.9L209.7 406.4L210.1 407.3L209.7 407.8L209.6 406.9L209.4 406.6L209.7 406.2L209.5 406.0L209.8 405.3L209.9 405.2L209.8 404.8L210.2 402.8L210.0 403.5L210.5 404.7L210.0 403.1L209.9 402.1L209.9 402.2L209.7 400.5L210.3 401.7L209.9 402.1L210.0 403.4L210.1 403.1L210.4 401.9L210.3 403.9L210.3 403.4L210.1 402.7L210.0 402.8L210.0 405.1L210.1 406.4L210.4 407.9L210.4 405.4L210.3 405.6L210.6 406.3L210.7 408.5L210.5 408.2L210.1 406.6L210.5 405.5L210.7 407.8L210.5 408.1L210.8 407.9L210.7 410.0L210.7 410.3L211.1 410.4L211.0 410.6L210.4 411.0L210.4 411.4L210.8 411.1L211.1 412.1L210.8 411.6L210.9 412.3L210.9 412.6L210.9 412.7L211.0 413.4L211.0 414.5L211.1 412.9L210.7 414.4L211.0 414.8L211.1 415.5L211.2 415.4L211.7 415.7L211.1 416.2L211.0 417.0L211.2 416.2L211.5 417.2L211.4 417.0L211.3 418.3L211.4 419.0L211.2 419.5L210.9 418.4L211.6 419.7L211.6 420.3L211.5 419.7L211.9 419.4L211.3 420.9L211.1 421.5L211.2 422.4L211.2 422.5L211.4 423.2L210.9 422.3L211.2 423.1L211.5 423.7L211.7 424.6L210.9 425.0L211.3 423.7L211.5 425.5L211.5 424.8L211.5 425.9L211.6 425.3L211.5 426.5L211.3 426.5L211.3 427.7L211.9 426.5L211.4 426.8L211.6 430.0L212.0 428.6L212.0 427.5L211.8 429.1L212.3 429.6L211.7 428.6L211.7 430.6L211.6 430.9L211.9 429.8L211.9 431.5L211.5 431.9L211.6 431.1L211.9 432.2L212.3 432.5L212.0 434.8L212.0 432.6L212.2 436.0L212.2 431.5L211.6 433.7L211.7 433.7L212.1 434.6L211.7 435.1L211.7 436.1L212.0 435.6L212.4 436.4L212.1 434.4L212.2 435.9L212.2 437.2L212.3 437.8L212.4 437.9L212.4 438.3L212.3 438.2L212.2 437.6L212.1 439.4L212.7 439.1L212.1 439.8L212.1 440.3L212.1 441.1L212.6 440.7L212.6 442.4L212.9 441.0L212.4 442.5L212.3 443.1L212.6 443.0L212.6 442.7L212.8 443.5L212.9 443.4L212.7 443.9L213.2 445.8L212.8 445.3L212.6 445.3L212.8 446.2L213.2 445.8L213.3 447.4L213.9 448.0L213.4 448.0L214.3 447.1L214.7 448.0L213.9 447.8L214.9 448.6L214.8 448.8L214.8 449.2L215.1 448.7L215.5 449.1L215.6 449.5L215.5 450.1L215.7 450.1L216.1 450.1L217.4 450.7L216.9 452.2L217.4 450.2L217.6 451.8L217.9 451.1L217.7 452.0L218.5 451.9L218.9 452.0L219.4 451.5L219.7 452.4L220.0 451.9L219.9 452.9L220.2 452.8L220.9 452.2L221.0 453.5L221.7 454.4L221.8 453.1L222.2 452.8L222.6 453.7L223.0 454.2L223.3 454.9L223.7 454.0L224.1 455.7L224.3 452.8L224.4 453.0L224.5 452.9L224.5 452.9L224.7 453.1L224.2 452.1L224.4 451.5L224.8 452.4L224.6 451.4L224.7 450.5L225.3 449.1L225.4 449.6L224.8 449.5L225.3 449.4L225.1 448.8L225.3 448.8L225.3 447.7L225.5 449.1L225.2 447.7L225.7 447.4L225.6 448.3L225.5 447.1L225.7 445.5L225.5 443.3L225.5 445.7L226.1 445.6L225.4 444.4L226.0 444.1L226.0 444.2L225.7 444.4L226.1 444.3L225.6 441.3L225.6 442.2L226.0 439.8L225.8 441.7L226.0 441.6L225.6 440.7L226.3 440.2L226.0 440.7L226.0 440.1L226.1 439.6L226.2 439.8L226.4 438.2L226.3 441.0L226.4 437.9L226.5 438.8L226.7 436.8L226.4 437.3L226.5 437.6L226.1 436.2L226.4 437.1L226.7 436.3L226.3 435.3L226.3 436.0L226.8 434.9L227.0 434.3L226.6 435.3L226.4 434.7L226.2 436.4L226.6 435.2L226.5 436.5L226.6 434.6L226.5 436.5L226.7 437.9L226.4 437.1L226.8 438.0L227.1 437.8L226.7 438.0L226.7 438.8L226.7 439.7L226.6 439.2L226.8 439.9L226.8 440.0L226.5 441.3L226.7 442.0L227.2 440.6L227.0 441.4L226.5 442.3L227.1 440.7L227.2 442.6L226.6 443.5L226.6 443.1L227.0 445.6L227.1 444.1L226.9 444.4L227.3 443.9L226.9 444.4L227.1 445.2L227.2 443.4L227.3 445.7L227.0 446.7L227.1 446.7L227.5 446.9L227.1 448.0L227.3 447.9L227.3 448.0L227.1 448.8L227.3 449.5L227.3 449.8L227.6 451.2L227.1 450.0L227.7 451.3L227.1 450.4L227.2 451.7L227.8 452.3L227.9 451.3L227.6 452.9L227.8 451.8L227.6 452.4L227.9 453.0L228.2 452.9L227.7 451.5L227.5 454.2L228.3 455.3L228.1 453.3L227.9 454.9L228.5 455.0L228.4 456.1L228.5 457.4L228.6 456.4L228.9 456.0L229.3 456.1L229.5 458.2L229.5 458.4L230.1 457.3L230.4 457.1L231.0 456.8L230.9 457.6L231.9 457.3L232.0 458.6L232.4 457.5L232.6 457.7L232.6 457.3L233.0 457.7L233.8 458.3L234.1 458.4L234.5 456.9L234.9 457.8L235.4 458.5L235.3 456.8L235.6 457.2L236.6 455.7L236.4 457.5L237.0 457.2L237.0 457.0L237.6 456.5L238.2 457.4L238.7 456.6L238.7 456.0L238.9 455.7L239.1 457.6L239.7 455.1L240.2 455.7L240.4 455.4L240.4 455.3L241.3 454.7L240.6 454.5L241.8 454.8L241.9 454.6L242.2 454.0L242.5 455.7L242.9 454.3L243.3 453.2L243.5 453.3L243.2 454.0L243.7 452.9L244.3 453.8L243.9 452.5L244.1 453.1L244.4 451.3L244.9 451.5L245.5 451.7L245.8 451.0L245.9 450.6L246.2 450.0L246.2 450.3L246.5 451.3L246.5 449.6L247.5 449.7L247.2 448.8L247.4 448.8L247.6 448.2L247.9 448.8L248.3 447.7L248.3 448.5L248.9 448.3L249.1 445.8L248.9 447.0L249.2 447.7L249.3 446.4L250.0 445.1L249.7 446.4L249.6 446.0L250.4 444.5L250.6 445.1L251.1 444.6L250.8 444.3L251.3 444.4L251.0 442.8L251.9 443.9L252.0 440.8L251.8 443.1L252.0 443.0L251.6 442.0L252.8 442.0L252.8 441.4L252.9 441.1L253.2 441.3L253.0 442.3L253.5 440.3L253.4 440.3L253.1 438.5L253.8 440.0L253.5 438.5L253.5 437.9L253.8 437.6L254.3 438.4L254.2 436.7L254.6 436.8L254.6 437.1L254.7 436.6L254.7 435.7L255.0 436.7L255.0 436.9L255.0 437.8L255.2 437.4L255.0 437.3L255.3 437.1L255.1 436.4L255.2 438.5L255.3 439.1L255.3 438.8L255.2 440.8L255.8 440.1L255.5 441.1L256.3 440.6L255.6 441.2L255.6 443.5L256.0 442.1L255.8 442.7L256.2 442.4L256.2 442.2L256.4 442.8L256.4 442.8L255.9 444.2L255.9 444.6L256.2 444.4L256.8 445.3L256.5 447.2L256.8 445.8L256.6 445.2L257.3 447.2L257.6 447.6L257.6 447.3L257.6 447.2L257.3 448.9L257.5 449.1L258.0 449.8L257.9 447.8L258.2 449.4L258.2 449.1L258.6 450.4L258.3 450.7L258.6 450.6L259.1 451.5L258.2 451.6L259.4 451.8L259.4 452.2L259.0 453.0L259.5 452.6L259.5 453.1L259.4 452.9L260.1 456.1L260.3 454.1L260.4 455.5L260.5 454.3L260.5 454.8L260.8 454.8L261.2 455.3L261.3 455.6L262.0 455.7L261.8 456.9L261.7 457.6L262.0 455.0L262.2 456.3L262.1 457.4L262.6 457.8L262.9 459.0L263.0 457.3L263.8 459.1L263.4 459.2L263.8 458.1L263.2 459.6L264.0 459.7L264.4 460.8L264.3 460.6L264.6 461.1L264.6 462.6L265.3 461.4L265.3 462.9L265.9 461.6L265.8 461.2L266.1 460.7L265.8 459.8L266.4 460.1L266.5 460.3L266.8 459.5L266.9 459.2L267.0 459.5L267.2 459.6L267.6 456.9L267.9 459.5L268.6 459.4L268.0 459.9L268.4 461.0L268.5 460.6L269.1 461.7L268.8 461.5L269.3 460.2L269.5 461.9L269.8 460.2L269.9 463.2L270.0 462.8L270.5 462.7L270.4 462.3L270.9 462.7L271.6 463.6L271.4 463.8L271.7 464.1L271.7 464.1L272.1 465.5L272.6 464.9L272.2 466.2L272.4 465.5L272.5 466.5L273.1 466.8L272.5 467.4L273.8 466.9L273.4 467.8L273.8 467.4L273.9 469.0L274.3 467.9L274.6 469.1L274.5 468.8L274.9 468.5L275.0 468.7L275.1 469.4L275.4 469.4L275.8 469.7L276.3 469.0L276.3 470.3L276.7 470.3L277.3 469.5L277.5 469.6L277.4 472.3L278.4 470.1L278.0 471.0L278.7 470.6L279.0 470.5L279.9 472.1L279.6 471.8L280.5 472.1L281.0 471.7L281.2 472.2L281.2 471.9L281.5 471.2L282.2 472.2L282.1 472.0L282.5 472.0L282.7 472.2L283.1 473.4L283.3 472.8L283.7 473.5L283.9 472.8L284.2 472.7L284.7 473.6L285.0 473.8L285.2 472.5L285.6 472.6L286.1 471.5L286.0 472.2L287.0 471.9L287.1 472.4L287.1 472.7L287.8 472.1L287.6 471.1L288.2 472.1L288.8 472.2L289.2 471.8L289.8 472.2L289.9 471.5L289.8 471.8L290.6 469.0L290.8 471.7L290.9 471.6L291.8 471.0L291.6 469.9L292.6 470.3L292.7 471.2L292.9 471.2L293.6 469.7L293.6 470.2L294.2 470.2L294.4 471.4L294.8 469.8L295.5 470.2L294.9 470.5L295.7 468.9L295.9 470.2L296.7 470.0L296.9 469.5L297.1 470.6L297.6 469.9L297.9 471.6L298.1 469.2L298.1 469.2L298.9 468.3L299.4 469.5L299.8 468.7L299.5 469.9L300.5 469.9L300.4 468.3L301.0 468.9L301.6 470.1L302.1 468.6L302.6 468.1L302.7 469.9L303.1 468.9L303.3 468.6L303.6 468.3L304.3 467.8L304.5 469.0L304.6 468.2L305.1 468.0L305.6 467.6L305.6 468.0L306.0 467.2L306.0 467.1L306.5 468.3L306.9 467.5L307.0 466.4L307.4 467.7L307.3 466.8L307.9 465.9L308.1 464.9L308.4 464.7L308.2 465.0L308.6 464.3L308.4 462.7L309.1 463.2L308.6 464.0L309.0 463.6L309.4 462.3L309.3 461.7L309.6 462.5L309.6 461.6L310.1 461.1L309.9 462.4L309.7 461.5L310.3 461.7L310.1 460.0L310.6 460.7L310.6 459.9L310.7 459.3L311.1 459.6L311.3 459.3L311.3 458.6L311.1 456.9L311.7 459.2L311.0 458.3L311.3 457.4L311.5 456.1L312.0 458.0L312.1 456.5L312.4 455.2L312.8 455.9L312.8 454.5L313.3 455.5L312.8 456.0L312.7 454.0L313.3 455.4L313.4 453.4L313.1 452.1L313.8 453.1L314.0 451.7L314.5 452.0L314.5 452.5L314.2 451.6L314.2 451.4L314.1 450.9L314.9 449.5L314.9 450.2L315.1 449.1L315.4 449.3L314.9 450.5L315.8 449.2L315.4 449.4L315.7 448.1L315.9 447.7L316.3 447.6L316.3 448.3L316.0 446.4L316.5 447.7L316.5 446.4L317.1 446.7L317.4 446.2L317.6 449.6L318.0 447.0L319.0 446.5L318.6 447.2L318.6 447.9L318.7 447.6L318.7 448.8L318.9 448.0L319.2 449.6L319.2 450.0L319.4 449.2L318.8 450.8L319.4 450.2L319.1 450.5L319.5 451.8L319.2 452.2L319.2 451.2L319.6 453.2L320.0 452.5L319.4 453.0L319.7 454.2L320.2 454.0L320.1 455.4L320.4 455.5L319.9 455.5L319.7 455.4L319.5 456.1L320.6 456.8L319.9 456.6L320.6 454.5L320.1 457.3L320.2 457.9L320.9 458.2L320.7 459.1L320.7 459.0L320.6 459.2L320.8 461.8L321.0 459.1L321.2 459.9L320.9 459.9L321.1 460.6L321.4 460.7L321.1 462.3L321.3 461.3L321.3 462.7L321.6 461.9L321.6 463.2L321.8 463.9L322.2 462.6L322.1 462.9L322.1 464.5L321.6 463.9L322.0 466.4L321.9 465.0L322.3 464.9L322.1 465.8L322.4 466.5L323.0 466.2L322.4 466.8L322.6 466.8L323.3 467.7L322.6 467.2L323.5 467.9L323.9 468.6L323.7 469.0L324.5 469.0L324.1 469.1L324.7 469.0L325.4 469.8L324.9 469.5L325.8 471.3L325.8 470.5L325.3 470.4L326.0 471.7L325.9 471.4L326.1 472.6L326.4 473.8L327.2 472.5L327.4 473.1L327.6 472.9L328.0 473.8L328.4 472.1L329.2 472.6L328.9 473.0L329.5 473.2L329.8 473.9L330.1 473.5L330.5 474.0L330.8 475.6L330.8 474.3L331.6 473.3L331.7 474.0L331.9 474.3L332.2 474.7L333.0 475.2L332.8 474.9L333.3 474.5L333.8 475.5L333.7 476.1L333.5 476.0L334.1 476.4L333.9 475.7L334.9 477.9L334.6 477.1L335.5 477.8L335.4 476.8L335.9 478.3L336.2 477.6L336.4 477.4L337.2 478.4L337.1 479.1L337.5 477.0L337.8 478.2L337.6 478.6L338.5 480.2L338.5 479.0L338.8 481.0L339.4 478.8L339.9 478.6L340.3 480.4L340.7 479.1L340.8 479.2L341.5 480.5L341.6 478.6L342.1 479.3L342.6 480.2L342.9 478.6L343.1 478.7L343.1 480.8L343.6 480.3L344.3 479.2L344.4 479.3L344.9 479.0L345.3 480.0L345.6 479.4L346.7 479.3L346.1 480.1L346.8 480.2L347.3 479.1L348.0 480.5L347.9 479.3L348.3 480.1L348.8 480.1L349.3 480.4L349.3 479.2L349.8 480.5L350.0 480.3L350.2 480.1L351.3 480.1L351.4 480.8L351.4 479.5L352.4 479.9L352.4 479.9L352.8 482.9L352.9 481.0L353.0 480.8L353.9 480.8L354.0 480.9L354.5 481.2L354.4 480.1L354.5 481.3L355.2 480.8L356.1 481.0L355.8 481.5L356.1 480.2L357.1 481.0L357.4 481.6L357.5 481.1L357.5 480.3L358.0 481.4L358.6 481.3L359.0 481.5L359.5 481.0L360.0 480.8L360.0 480.1L360.7 480.4L360.4 479.9L361.0 480.0L361.1 480.8L361.3 479.1L361.7 479.4L361.5 479.6L362.4 479.5L362.4 478.6L362.4 479.1L362.6 477.5L363.1 477.7L362.9 476.6L363.2 476.9L363.7 477.9L363.5 475.9L363.6 476.4L363.8 475.3L364.5 474.7L364.3 474.9L364.6 473.6L363.7 475.2L364.2 473.2L364.6 473.3L364.4 472.6L364.8 473.8L365.0 473.1L364.8 474.5L364.9 474.8L365.2 475.7L365.7 475.2L365.9 476.4L365.6 476.9L365.1 476.7L365.9 477.5L365.9 477.5L365.6 476.7L365.5 477.9L365.7 477.8L365.9 479.9L366.6 478.5L366.2 478.8L366.6 480.1L367.2 478.4L367.0 480.0L367.3 481.3L367.2 478.0L367.9 479.4L367.4 481.1L368.1 480.5L368.4 480.9L368.6 481.6L369.1 480.5L369.8 482.4L369.3 482.4L370.2 483.1L370.1 482.4L371.0 481.2L371.4 481.4L371.3 481.8L371.9 483.6L372.0 482.3L372.7 481.5L372.8 481.9L373.2 482.7L373.5 480.6L374.5 482.6L374.2 483.1L374.5 483.9L374.8 481.8L375.6 482.6L376.2 482.5L376.3 482.8L376.1 481.3L376.6 484.3L377.1 483.4L377.5 481.8L377.5 481.9L378.1 483.6L378.6 482.0L378.9 482.7L378.9 481.5L379.8 482.5L380.1 482.1L380.3 482.3L380.5 482.0L381.0 482.3L381.3 482.9L381.6 483.5L382.1 482.7L382.3 482.8L383.3 482.4L383.7 483.1L383.7 482.6L384.3 483.8L384.1 481.9L384.0 481.9L385.1 482.7L384.8 481.4L385.6 482.0L386.1 480.4L386.3 483.3L387.0 481.2L386.6 482.1L387.8 481.2L387.6 480.6L387.9 480.1L388.8 481.3L388.7 480.0L388.7 481.1L389.7 480.4L390.3 479.9L390.1 480.5L390.1 480.0L390.6 481.1L390.7 480.8L391.7 479.4L391.9 479.4L392.4 479.3L392.8 481.1L392.4 479.2L393.2 479.4L393.5 479.5L393.9 478.7L393.9 478.5L394.2 479.2L395.0 479.4L395.1 478.7L395.4 478.0L396.0 479.2L396.0 478.1L396.5 478.3L396.5 478.5L396.9 478.4L397.9 478.5L397.8 477.5L398.3 477.4L398.7 477.3L398.6 478.9L399.3 476.6L399.6 477.0L400.2 478.0L400.7 478.0L400.7 478.0L400.9 478.7L401.6 477.0L402.1 477.3L402.0 477.6L402.5 476.5L402.5 476.8L403.5 477.3L404.1 478.2L403.7 477.6L404.4 478.6L404.6 478.6L405.3 477.4L405.9 476.4L405.7 478.8L406.0 480.1L406.5 477.1L406.4 477.2L406.9 477.5L407.0 477.9L406.8 477.3L407.0 476.8L407.4 475.2L407.5 475.2L408.3 474.8L407.9 474.6L408.2 475.7L408.1 475.6L408.5 475.0L408.7 475.6L408.9 475.7L409.4 475.2L409.1 475.7L409.7 474.8L409.6 476.7L410.0 476.4L410.5 477.3L410.6 475.9L410.8 475.3L410.9 476.2L411.4 476.7L411.8 475.3L412.6 475.4L412.9 475.7L412.8 473.5L412.9 475.3L413.5 474.5L413.9 474.9L414.2 475.7L414.2 475.8L415.0 474.4L415.4 475.4L415.7 474.8L415.9 475.8L416.2 475.4L416.5 475.3L416.5 475.5L417.3 475.9L417.4 476.0L417.6 475.8L418.1 475.8L419.1 474.5L419.2 476.1L418.9 476.5L420.0 475.7L419.9 476.0L420.0 475.2L420.8 474.5L420.4 476.1L421.1 474.6L421.9 475.3L421.7 474.9L421.6 474.2L422.4 474.2L422.4 473.6L422.8 471.9L423.2 473.3L423.4 472.8L423.6 473.9L424.0 472.1L424.8 474.3L424.6 473.6L425.1 473.4L425.7 474.4L425.3 474.0L426.3 475.2L426.8 473.6L427.2 473.3L427.2 475.2L427.9 472.9L428.3 474.7L428.7 474.4L428.8 474.0L429.8 474.8L429.5 473.7L430.3 473.7L430.1 474.6L430.8 475.9L431.0 474.7L431.8 475.6L431.5 474.7L431.9 476.6L432.4 475.9L432.7 475.7L433.0 475.5L433.1 476.9L433.3 476.5L434.1 477.0L434.0 476.8L434.5 477.4L434.9 478.1L435.6 476.7L435.3 477.9L435.7 478.0L436.3 478.1L436.4 477.5L437.2 478.5L437.4 478.5L437.8 479.5L437.5 478.5L438.1 480.0L438.8 478.6L438.4 479.7L439.4 479.9L439.7 478.6L439.8 479.0L440.3 479.5L440.6 478.6L440.9 479.4L441.4 480.6L441.4 479.8L442.1 479.0L442.7 479.8L443.2 479.1L443.2 480.0L443.3 479.5L444.3 479.9L444.3 480.4L444.4 480.3L445.0 480.6L445.6 480.4L446.0 480.9L446.1 480.3L446.6 479.4L446.9 480.6L447.2 481.2L447.7 479.8L447.9 478.8L448.3 480.2L448.7 481.7L448.5 478.4L449.4 479.1L449.5 479.2L449.9 478.7L450.0 480.6L450.2 478.3L450.0 477.8L450.6 476.8L450.2 477.2L450.4 477.3L450.6 475.2L450.7 476.0L450.5 477.3L450.9 474.8L450.8 474.1L450.8 474.5L450.9 473.5L451.3 473.9L451.2 474.6L451.2 475.4L451.3 475.6L451.2 474.5L451.8 477.0L451.8 477.8L451.9 477.2L452.0 477.2L451.9 479.9L452.2 478.2L451.7 479.6L452.1 478.7L452.0 479.1L452.6 479.9L452.5 479.1L452.5 478.2L452.6 480.2L453.6 478.2L452.9 478.2L453.8 480.6L454.0 478.7L454.6 478.0L454.9 478.0L454.7 478.7L455.3 478.0L455.8 479.0L455.8 478.5L455.6 477.2L456.5 478.1L456.6 476.7L457.3 477.1L457.5 477.3L457.8 477.2L458.6 477.0L458.7 475.8L459.2 477.5L459.1 475.0L459.8 477.0L460.3 476.2L460.2 476.5L460.6 476.9L461.1 476.5L460.8 475.2L461.1 475.4L461.8 475.6L462.2 474.8L462.1 475.1L462.4 475.5L462.9 473.8L462.6 473.4L463.1 474.2L463.6 472.6L463.4 471.9L463.7 472.1L464.2 473.0L464.5 471.8L464.9 471.3L464.8 471.4L465.4 471.6L465.1 471.2L465.7 470.4L465.4 471.1L465.3 469.9L465.7 470.2L465.6 469.3L465.9 469.8L465.8 467.6L466.2 468.8L465.9 467.7L466.2 466.8L466.5 467.0L466.5 465.9L467.2 466.4L466.8 467.6L466.9 466.6L467.5 465.5L466.9 464.6L467.1 465.9L467.3 464.9L467.3 464.7L468.1 464.5L468.0 461.2L467.6 463.7L467.9 462.8L468.3 462.6L468.3 462.5L468.5 460.2L468.4 462.2L468.6 461.4L468.4 461.3L468.8 461.1L468.9 460.5L468.9 460.3L469.0 460.0L468.9 459.1L469.3 459.4L469.3 460.8L469.5 459.5L469.0 457.2L469.1 456.3L469.9 456.2L469.6 455.9L469.7 457.1L469.8 456.4L470.0 455.3L470.6 454.9L469.5 455.3L470.2 454.9L470.1 453.4L469.9 453.5L470.0 452.4L470.6 452.9L470.6 452.5L470.6 452.2L470.8 451.7L471.0 452.0L470.8 452.8L470.2 451.7L470.5 450.3L470.9 449.2L471.2 449.9L470.9 450.1L471.1 450.2L471.0 447.8L471.0 448.0L470.9 448.4L471.2 448.8L471.4 447.7L471.2 447.8L471.3 447.1L471.8 445.9L471.1 445.7L471.4 446.3L471.8 446.4L471.6 445.9L472.5 446.4L472.2 444.5L471.9 446.0L471.9 443.0L472.2 442.8L472.2 442.7L473.1 443.4L472.2 440.0L472.6 442.2L472.1 439.3L472.9 442.3L472.3 440.6L472.4 440.8L472.9 440.4L472.8 440.0L472.9 439.2L472.7 439.6L473.5 438.4L472.7 437.9L473.3 437.5L473.2 438.6L472.7 437.6L473.5 437.3L473.1 438.5L473.1 438.7L473.5 438.9L474.0 438.5L473.6 440.3L474.1 440.5L473.9 440.2L473.7 441.3L473.9 439.7L474.4 441.9L474.3 442.0L474.2 441.8L474.5 443.8L474.6 443.3L475.1 442.7L474.9 442.8L475.0 442.6L474.5 443.4L474.7 443.9L475.3 444.6L475.3 444.9L475.6 445.0L475.4 446.1L475.8 445.9L475.9 446.7L476.3 447.4L475.7 447.5L476.1 447.1L475.8 447.9L476.0 446.9L475.8 449.0L476.0 449.7L476.5 448.3L476.3 449.9L476.7 449.4L476.3 451.3L476.5 450.9L476.4 449.5L476.6 451.0L477.1 451.3L476.9 451.3L476.2 452.1L476.7 453.1L476.8 452.6L476.7 453.1L477.2 453.2L477.2 452.7L477.2 452.2L476.9 454.6L477.3 455.4L477.5 456.0L477.4 455.4L477.3 455.0L477.6 457.0L477.4 457.3L477.6 456.3L477.5 456.1L477.5 457.4L477.5 458.0L477.6 458.7L478.0 459.4L477.8 458.5L478.0 458.7L478.3 460.3L478.2 460.2L478.3 460.9L478.6 460.8L478.2 460.4L478.1 460.6L478.0 461.7L478.4 462.1L478.5 463.2L478.6 462.1L479.0 463.2L478.6 461.6L479.1 464.6L478.8 464.3L478.8 464.7L479.0 463.6L478.7 466.0L479.1 466.0L478.9 466.2L479.3 466.3L479.6 464.9L479.4 466.3L479.8 468.2L479.8 468.2L480.2 467.8L480.6 469.3L480.2 469.0L480.3 468.3L480.8 469.6L481.2 469.4L480.6 469.4L481.1 471.2L481.3 469.5L481.1 470.8L481.8 472.4L481.9 470.8L481.7 470.6L481.7 473.4L482.2 473.2L481.7 473.5L482.4 473.4L481.9 472.9L482.6 474.8L482.8 474.1L483.1 474.2L483.3 473.9L483.2 474.9L483.1 474.4L483.4 476.2L483.3 475.5L484.0 476.0L483.6 476.4L483.9 476.6L484.1 477.3L484.6 477.2L485.1 477.0L484.7 478.4L485.3 477.5L486.1 479.3L485.8 478.2L486.8 479.7L486.6 479.0L486.6 479.8L486.6 479.3L487.5 479.6L487.5 479.8L487.9 480.5L488.1 480.5L488.3 480.5L488.7 480.4L488.4 482.3L489.2 481.0L489.5 480.8L490.0 482.1L490.0 481.7L490.2 482.5L490.4 481.4L491.3 482.0L491.1 481.9L491.4 481.8L492.3 481.9L492.3 482.8L492.5 482.1L492.8 482.2L493.8 483.3L494.1 482.9L494.4 481.9L494.4 481.8L494.9 482.2L495.3 483.6L495.8 482.7L496.4 483.6L496.3 483.3L497.3 481.7L496.9 484.2L497.5 481.0L497.8 483.3L498.1 482.2L498.6 482.9L498.8 482.5L499.7 482.5L499.7 482.3L499.9 482.7L500.2 482.1L501.0 482.9L501.6 482.1L501.6 483.0L501.8 484.9L501.5 483.2L502.6 483.2L502.6 483.6L503.4 483.9L503.5 481.5L504.2 483.0L504.5 483.7L504.6 482.7L505.0 483.0L505.1 484.6L505.8 484.0L506.0 482.9L506.3 483.4L506.9 483.5L507.2 483.9L507.5 483.2L507.7 482.2L508.3 484.2L508.2 482.8L508.8 484.1L509.4 484.9L509.1 485.0L510.2 482.6L510.4 484.2L510.8 483.4L511.1 484.1L511.6 483.7L511.6 483.8L512.0 484.3L512.3 483.7L512.8 484.2L512.6 484.0L513.5 483.8L513.5 483.7L514.4 485.1L514.5 484.4L514.6 482.7L515.3 483.5L515.8 483.8L516.1 483.3L516.2 484.0L516.5 484.8L517.1 484.5L517.5 484.2L517.6 484.3L518.3 484.4L518.6 484.9L518.6 483.3L519.5 483.6L519.5 484.1L519.5 485.6L520.1 484.4L520.4 484.0L521.1 484.3L521.0 483.9L521.5 485.5L522.2 484.2L522.4 483.7L522.5 485.1L523.2 485.7L523.9 484.8L524.1 485.3L524.6 484.6L524.5 485.1L524.7 484.8L525.4 485.1L525.2 483.0L525.9 485.0L526.7 484.4L526.7 485.0L527.2 484.8L527.4 484.2L528.0 485.1L528.2 484.2L528.0 485.1L528.6 484.5L528.8 485.7L529.9 485.4L529.9 484.0L530.1 485.1L530.6 485.4L530.8 484.4L531.2 486.5L531.5 483.9L531.8 486.9L532.1 485.7L532.6 485.7L533.2 483.9L533.3 484.8L533.4 485.8L534.2 485.0L534.2 484.5L534.8 484.9L535.1 484.1L535.9 484.4L535.9 484.7L535.9 486.0L536.4 486.1L536.5 485.6L536.8 485.1L537.5 486.0L537.9 486.1L538.2 484.9L538.6 486.2L539.1 485.0L538.8 486.1L539.4 484.2L540.1 485.0L540.2 483.0L540.6 486.2L540.6 485.5L541.7 486.6L541.8 486.0L541.9 485.8L542.4 484.9L543.0 485.7L542.8 484.9L543.6 484.9L543.9 485.5L543.8 485.1L544.5 485.0L545.1 486.3L544.8 484.6L545.4 485.6L545.9 486.5L546.6 485.8L546.3 486.7L546.9 485.6L547.3 485.3L547.5 484.8L548.3 486.3L548.5 485.5L548.6 485.2L549.2 486.2L549.8 487.4L550.0 484.6L550.1 485.5L550.0 485.8L550.7 485.1L551.6 486.0L551.8 485.3L552.0 484.8L552.2 485.0L552.7 485.8L552.7 486.3L553.6 484.7L553.7 485.7L554.1 486.3L554.1 485.6L554.8 485.3L555.3 485.9L555.3 486.4L555.6 485.5L556.1 485.7L556.3 485.0L557.1 485.5L557.3 486.3L557.6 486.0L558.2 485.5L557.9 487.1L558.7 484.6L559.1 486.4L559.6 485.8L560.1 486.3L559.7 485.5L560.2 485.4L560.9 485.2L560.8 485.6L561.4 486.4L561.5 485.9L561.8 485.9L562.7 485.6L562.7 486.5L563.4 486.3L563.6 485.6L564.4 487.1L564.4 486.1L564.7 486.6L565.2 486.3L565.2 486.8L565.9 486.0L565.9 485.2L566.4 485.9L566.4 485.7L567.3 484.9L567.6 486.5L567.8 486.1L568.4 486.4L568.4 486.2L569.0 485.6L568.6 485.6L569.2 485.8L569.9 485.1L570.5 486.4L570.8 486.1L570.5 486.7" fill="none" stroke="#00f" stroke-width="2.4" stroke-linejoin="round"/>
<path clip-path="url(#cb)" d="M634.0 99.7L634.1 99.6L633.9 99.4L634.3 99.3L634.5 97.8L633.6 97.9L633.6 97.9L633.8 97.6L634.9 97.8L633.5 96.7L634.5 96.8L635.3 95.0L635.0 96.1L634.8 95.8L635.6 95.0L635.7 94.5L634.6 94.8L633.7 95.2L636.2 94.0L634.8 94.0L636.4 93.1L635.6 92.6L635.4 92.5L635.6 91.6L634.3 91.6L635.5 91.1L636.7 90.5L635.6 89.3L636.1 90.5L636.4 89.8L636.0 89.4L637.3 88.4L636.4 88.2L635.4 88.1L635.1 87.4L636.5 87.1L637.8 87.0L636.2 86.8L636.2 86.4L636.3 86.8L636.8 86.8L635.8 87.4L637.2 88.3L637.7 88.3L637.7 88.5L637.9 88.7L638.1 88.3L637.0 87.9L638.6 88.1L638.2 87.7L638.0 87.5L637.2 87.1L638.3 86.9L637.4 86.5L638.4 86.2L636.9 85.8L639.1 85.1L637.6 85.0L639.2 84.4L638.8 84.0L639.1 83.3L638.4 84.2L638.5 83.8L638.6 83.2L638.2 82.8L639.7 82.2L639.7 82.3L639.4 81.6L638.7 81.4L639.8 82.7L640.3 82.3L640.4 82.3L640.9 83.2L642.5 83.1L640.9 83.5L641.4 83.2L640.5 84.2L641.9 84.4L642.0 84.7L643.0 85.0L642.5 84.8L642.5 85.9L643.1 86.8L642.8 87.0L643.0 86.7L642.2 86.9L642.9 87.4L642.0 87.8L643.2 88.3L642.1 88.6L642.3 88.4L642.8 88.8L642.2 89.5L642.7 89.5L643.2 90.0L642.7 91.2L642.5 91.1L643.8 91.8L642.4 92.1L642.3 92.0L643.1 92.4L643.0 92.8L643.9 93.7L643.4 94.1L642.6 94.1L643.1 95.0L643.6 95.1L643.1 94.9L643.4 95.4L643.1 95.1L644.0 96.1L643.0 96.3L644.0 96.5L644.0 97.4L644.2 96.6L642.8 97.6L643.8 97.7L643.8 98.6L642.7 98.8L644.5 98.7L644.6 99.4L644.7 99.7L644.3 100.4L645.1 100.0L645.0 100.8L644.7 100.9L645.2 101.4L646.3 102.4L644.5 101.9L644.3 102.9L643.9 102.8L643.7 103.2L645.7 103.6L644.0 103.6L645.8 104.3L646.4 104.8L645.3 105.3L646.3 105.0L645.9 105.7L646.4 105.8L645.9 106.3L646.3 106.3L645.3 106.4L646.1 107.2L646.0 107.6L646.2 108.3L647.2 107.6L647.4 108.6L646.2 109.1L646.5 109.8L647.2 110.0L646.0 110.0L647.7 110.6L648.2 111.0L648.1 111.6L648.0 111.2L646.9 111.4L647.6 112.1L646.4 112.4L646.9 112.8L648.3 112.8L647.6 113.3L648.1 113.7L647.4 113.8L647.5 114.7L648.0 115.1L647.5 115.3L648.5 115.2L647.2 116.0L648.4 116.2L648.0 116.5L648.1 117.1L647.4 118.6L648.1 117.4L648.3 118.6L648.0 118.7L648.5 118.8L648.1 119.0L648.8 119.3L649.0 120.2L649.1 119.9L648.7 120.8L648.9 120.9L649.3 121.3L648.9 121.9L648.9 121.9L648.4 121.2L648.8 122.7L648.9 124.1L648.7 123.4L649.5 123.9L650.1 124.3L649.5 124.2L650.3 124.7L649.9 125.0L649.2 125.4L649.7 125.5L649.9 126.5L650.5 126.8L650.4 127.0L650.2 127.3L650.7 127.8L650.3 128.3L650.0 128.3L650.4 128.7L650.6 129.1L651.1 129.7L650.6 129.9L651.6 130.1L650.4 130.7L651.7 130.8L650.9 131.1L650.6 132.0L650.8 132.0L650.9 132.4L650.7 132.8L651.1 131.9L651.0 133.5L650.2 133.1L652.3 133.9L651.5 134.2L651.1 134.9L650.1 135.0L651.0 135.7L652.4 135.9L651.7 136.1L650.8 136.1L651.5 136.7L651.6 137.5L651.3 137.5L650.8 138.2L651.1 138.7L651.1 138.6L651.9 139.2L652.1 139.9L652.1 140.1L651.8 140.2L651.7 140.3L651.7 140.9L652.3 140.6L651.1 141.5L652.1 141.8L652.0 142.2L653.2 142.9L652.1 142.6L651.5 142.5L651.7 143.7L652.2 143.8L651.5 143.3L652.0 144.3L652.5 145.2L652.6 145.6L652.7 145.3L652.8 146.1L652.9 146.0L652.7 146.7L651.2 146.9L651.6 146.3L653.2 147.1L652.3 148.8L653.7 147.6L654.0 148.4L653.2 149.6L652.6 149.1L652.3 149.9L653.6 149.9L653.1 150.5L653.0 150.8L652.0 151.3L652.8 152.8L653.4 152.1L652.9 151.9L652.7 152.8L652.4 153.4L654.2 153.4L653.7 154.0L653.4 154.1L652.6 154.5L651.7 155.1L653.4 155.1L653.5 155.4L653.7 156.0L652.8 156.3L653.7 156.8L652.3 156.6L653.9 157.2L652.9 157.7L653.5 157.5L653.8 158.7L653.3 159.2L653.3 159.5L654.2 159.0L654.7 159.9L653.7 159.4L654.2 159.9L653.9 160.9L653.9 160.8L652.8 162.1L654.2 162.2L654.1 161.9L654.0 162.6L654.7 162.6L654.0 164.0L654.1 163.7L653.8 164.0L653.9 164.9L654.7 164.4L656.1 164.9L654.9 165.3L654.3 165.2L653.7 165.2L656.1 166.2L655.3 166.7L654.6 167.0L654.6 167.6L656.5 168.6L654.6 168.0L654.5 168.5L653.9 169.1L655.0 169.5L655.3 169.7L655.4 169.8L655.5 170.4L655.4 170.9L655.4 172.1L656.1 170.8L655.3 171.5L656.0 171.7L655.6 172.0L655.9 172.3L656.2 173.3L655.8 173.6L655.8 173.9L656.2 174.1L656.5 173.4L656.3 175.4L656.3 175.6L656.2 175.5L656.5 175.7L656.8 176.0L656.8 176.4L656.6 177.6L656.5 177.5L656.9 177.5L656.6 177.9L657.7 178.1L657.0 178.3L657.0 179.7L657.1 179.3L656.8 180.0L657.1 180.2L657.5 180.1L657.2 181.0L657.2 181.0L657.5 181.1L657.1 181.4L657.8 182.3L657.6 182.4L657.9 182.7L657.6 182.5L657.3 183.5L657.7 184.4L658.3 184.7L658.1 184.0L658.5 185.1L658.1 185.3L658.1 186.2L658.4 185.9L658.4 185.9L658.3 186.5L658.2 186.9L657.4 187.4L658.4 188.0L658.1 188.5L658.7 188.1L658.8 188.9L658.5 189.0L658.5 188.7L659.0 189.8L658.6 189.7L658.4 190.1L659.4 190.6L658.7 190.8L658.2 191.6L658.7 191.8L659.1 192.0L658.9 192.7L659.0 193.2L659.2 192.9L659.2 194.0L658.7 194.3L659.4 194.1L659.5 194.6L659.5 194.9L659.5 195.0L659.2 195.6L659.3 195.9L659.7 196.1L659.3 196.5L659.0 197.2L659.5 197.2L659.5 197.6L659.7 198.7L659.8 198.1L660.2 198.6L660.1 199.5L660.0 198.8L660.1 199.2L659.8 200.3L659.7 200.6L659.7 201.4L660.1 201.8L660.2 201.6L660.0 201.9L660.2 202.1L660.2 202.4L660.3 202.8L660.7 203.5L660.6 203.4L660.6 204.4L660.5 204.2L660.4 204.1L660.6 204.5L660.9 205.4L661.2 206.9L660.8 206.0L661.1 206.9L661.0 207.0L660.3 207.5L661.1 208.4L661.2 208.0L661.4 207.9L660.8 208.6L661.4 208.6L661.0 208.9L660.9 209.8L661.0 209.8L661.5 210.7L660.8 210.8L660.8 211.7L661.4 211.9L661.2 212.0L661.3 212.7L661.2 212.6L661.1 212.7L661.8 213.6L661.5 213.7L661.3 214.1L661.6 214.8L661.6 214.7L661.5 215.0L661.7 215.1L662.1 216.6L661.5 216.2L662.0 216.4L661.6 216.9L662.0 217.1L661.8 217.2L662.0 217.9L662.2 218.1L662.6 218.5L661.7 218.7L662.2 219.1L661.8 219.7L662.0 220.4L662.3 220.2L662.5 221.0L662.6 221.6L663.1 221.4L662.5 222.1L661.9 221.9L662.7 223.3L662.6 222.6L662.9 223.4L662.7 223.6L662.8 223.9L662.7 223.7L662.7 224.5L662.8 224.1L663.1 225.7L663.2 224.8L663.2 225.7L663.1 226.6L663.5 226.6L663.5 226.7L663.1 227.7L663.3 227.6L663.1 227.7L663.5 228.5L663.4 228.5L663.3 228.6L663.6 229.9L663.9 229.5L663.8 230.2L663.4 230.2L664.0 231.3L664.0 230.9L664.1 231.6L663.2 231.8L663.5 232.7L663.9 232.8L663.9 233.1L664.0 233.5L663.9 234.2L664.7 234.1L664.5 234.2L664.3 234.7L664.5 234.8L664.4 235.3L664.6 235.8L665.1 236.3L664.7 236.4L664.4 236.5L665.1 237.0L664.1 237.5L664.9 237.8L664.6 238.8L664.7 238.3L665.0 239.5L665.6 239.1L664.8 239.8L665.4 240.4L665.4 240.0L665.2 240.6L665.2 241.6L665.4 241.5L665.6 241.5L665.5 241.9L665.0 242.4L665.4 242.6L665.2 243.3L665.5 242.8L665.8 243.6L665.5 243.8L665.8 244.1L666.5 245.1L665.7 245.3L666.0 245.5L665.4 246.1L666.0 246.4L666.3 246.9L665.6 246.9L665.6 246.7L666.5 248.1L666.5 248.4L666.3 248.2L666.3 248.6L666.4 249.2L666.1 249.3L666.5 249.6L666.4 249.2L666.6 250.2L666.9 250.0L667.2 251.4L666.7 251.6L667.5 252.1L667.2 251.8L667.3 252.3L666.9 252.9L667.0 253.6L667.7 252.9L667.5 253.9L667.3 254.0L667.2 254.2L667.3 254.6L667.6 254.9L668.2 256.0L667.7 256.0L668.0 255.9L668.1 256.7L668.0 257.0L668.8 257.6L668.0 257.5L667.8 258.3L668.4 258.1L668.1 258.8L668.1 258.9L668.2 259.7L668.7 260.2L668.5 259.9L668.7 260.7L668.4 261.1L668.4 261.1L668.7 261.6L669.1 262.3L668.6 262.7L669.3 262.8L669.4 263.6L669.0 264.2L669.3 263.9L669.5 264.2L669.7 264.8L669.2 265.1L669.5 265.2L669.9 265.2L669.4 266.2L669.5 266.0L669.3 266.5L670.2 266.6L670.0 267.2L670.1 267.4L670.2 267.2L669.9 267.2L670.7 269.2L670.3 270.0L670.8 269.4L670.1 269.7L670.7 269.7L670.3 270.1L670.8 270.3L671.5 270.9L670.5 271.5L670.3 271.7L671.4 272.2L671.3 272.2L670.7 272.5L671.4 273.8L670.9 273.1L671.4 274.9L671.2 274.0L671.7 274.9L671.3 275.4L671.3 275.3L672.2 275.9L671.7 276.0L671.9 277.1L672.1 276.9L671.9 276.6L672.7 276.6L672.6 278.4L672.9 278.0L672.3 277.8L673.0 278.4L672.5 278.3L673.3 278.6L672.8 280.1L672.7 280.1L672.9 280.4L673.3 279.6L673.7 281.4L673.4 281.5L673.3 281.6L673.8 282.4L674.1 282.1L673.9 283.0L674.4 283.1L673.6 283.8L674.1 283.7L674.1 284.2L673.6 284.7L673.9 285.3L673.9 285.0L674.4 285.7L674.5 285.8L674.3 285.4L675.2 286.8L674.8 287.0L674.4 288.2L674.7 287.6L675.1 287.6L674.9 288.5L675.5 288.9L675.0 289.8L675.7 289.3L674.9 290.1L675.2 290.4L675.4 290.5L674.5 290.7L675.0 291.6L675.7 291.4L675.5 291.7L676.0 292.1L675.6 292.5L675.6 292.9L675.8 293.6L675.5 292.6L675.5 294.1L676.0 294.0L675.6 294.4L676.0 295.2L675.8 294.9L677.1 296.2L676.1 296.0L676.7 296.1L676.5 295.8L676.3 297.1L676.7 297.6L676.7 297.5L677.1 298.4L676.4 298.2L677.3 299.1L677.0 299.1L677.2 299.3L677.5 300.2L677.5 300.6L677.3 300.3L677.4 301.0L677.6 301.5L678.2 301.8L678.2 301.6L677.3 301.9L677.7 302.3L677.8 302.7L678.2 302.8L677.5 303.4L679.4 304.0L678.3 304.5L678.7 304.6L679.6 304.5L679.3 305.7L679.1 305.6L679.7 306.4L679.8 306.1L680.0 306.0L679.8 306.4L680.4 307.5L679.7 308.0L680.3 307.9L680.4 307.7L681.1 308.7L680.5 308.5L680.7 308.9L680.3 309.9L681.7 309.9L681.5 310.5L681.2 310.2L681.7 311.3L681.1 311.6L681.5 311.8L681.2 312.1L682.2 311.3L682.7 312.3L682.3 313.8L682.2 313.1L682.4 313.1L682.9 313.8L682.9 314.0L682.9 313.1L683.2 315.2L683.8 314.9L683.2 315.9L683.5 316.2L683.8 315.9L683.9 316.5L683.9 318.0L683.8 316.5L684.1 318.1L684.3 316.9L684.8 318.1L684.4 319.5L684.5 318.7L684.3 319.7L684.4 319.0L685.1 320.1L685.4 320.2L684.9 321.2L685.3 321.3L685.1 321.9L685.3 323.4L685.8 322.1L686.0 322.4L686.3 322.8L686.1 322.3L686.0 323.3L686.3 322.5L686.0 324.1L686.6 323.7L686.8 325.5L686.3 325.1L686.5 325.7L687.0 325.7L686.7 327.5L687.3 326.7L687.6 325.9L687.4 326.2L687.3 327.7L688.0 327.6L687.9 328.9L688.1 328.6L688.2 328.1L688.1 328.2L688.4 329.1L688.3 329.4L689.3 329.2L689.0 332.1L689.2 332.0L688.6 331.5L689.0 328.7L688.9 332.7L689.9 332.2L690.1 331.1L689.5 331.6L690.5 333.4L689.9 334.3L690.7 334.0L690.4 333.7L690.8 332.2L690.6 333.6L691.0 334.5L691.0 335.3L691.1 336.0L691.2 334.3L691.6 336.0L692.2 335.2L691.7 336.7L692.6 336.1L692.8 337.9L692.6 337.7L692.5 339.1L692.6 339.1L693.4 338.0L693.0 338.4L692.9 339.0L693.4 340.4L692.8 339.8L693.8 341.1L693.0 345.0L693.4 340.0L694.0 340.7L694.2 342.6L694.5 341.8L694.7 341.3L694.5 343.0L695.0 345.5L694.4 342.0L694.8 344.5L695.4 342.2L695.5 344.1L695.5 343.9L695.4 343.8L695.3 346.3L696.4 343.8L696.0 345.3L695.5 346.4L696.2 344.9L695.6 341.9L696.2 345.1L697.0 346.9L696.8 350.4L696.7 348.0L697.2 348.4L697.7 351.0L697.9 349.4L698.6 349.8L698.1 347.9L698.3 350.8L698.5 349.3L698.8 352.8L699.2 348.5L699.6 352.7L700.1 357.5L699.8 354.3L700.5 352.6L700.0 353.5L700.1 353.0L701.1 351.2L701.0 352.5L701.1 352.1L701.3 350.2L701.8 351.1L702.0 355.9L702.3 354.7L702.9 355.4L702.5 353.7L703.2 359.5L703.0 354.0L703.4 350.4L704.0 356.5L704.4 353.8L704.1 353.7L704.7 355.5L705.2 357.5L705.3 358.7L705.5 356.6L706.1 359.4L705.8 358.2L706.1 358.2L706.0 354.5L706.8 359.7L706.9 360.1L707.6 358.2L707.5 359.6L707.8 358.4L708.2 358.0L708.3 356.2L709.2 360.1L709.3 355.8L709.6 357.6L710.0 357.9L709.7 360.4L710.8 360.5L711.0 361.2L711.2 362.0L711.8 363.0L711.5 357.7L712.3 360.2L712.7 361.6L713.0 364.1L713.0 362.1L713.4 358.4L713.8 359.2L714.2 361.2L714.4 362.2L715.0 362.5L715.3 363.2L715.7 359.8L716.1 361.1L715.9 360.6L716.1 362.4L716.4 361.3L716.8 364.1L717.1 361.2L717.4 363.0L717.9 361.3L718.1 366.1L718.4 360.3L718.6 365.0L719.1 364.1L719.5 364.2L719.1 365.1L720.1 361.7L719.9 365.1L720.1 365.7L720.6 365.5L720.7 369.4L721.0 365.1L721.6 365.3L722.1 367.5L722.2 361.4L723.1 369.9L723.0 364.7L723.6 365.0L723.6 365.4L724.4 367.4L724.3 365.4L724.7 366.8L725.1 366.0L725.9 365.0L726.2 366.2L726.2 365.5L726.7 367.3L727.5 370.9L727.6 367.6L727.6 369.4L728.0 368.3L728.6 366.4L728.7 366.9L729.1 364.8L729.7 365.6L729.8 367.4L730.3 369.1L730.5 363.8L730.8 368.7L731.3 366.5L731.8 369.0L732.2 367.6L732.8 368.9L732.6 369.2L733.2 367.7L733.6 368.0L733.8 363.7L734.0 367.5L734.3 366.5L735.1 367.9L735.0 368.7L735.5 366.1L736.1 365.4L736.2 367.8L736.5 366.0L737.1 368.0L737.5 368.6L737.9 369.0L738.3 369.6L738.0 366.9L738.7 367.7L739.2 363.3L739.6 369.0L739.7 370.0L740.3 371.4L740.8 367.0L741.0 374.0L741.0 373.3L741.6 368.2L741.9 368.0L742.6 369.7L742.8 362.7L743.3 369.0L743.3 369.6L743.6 368.5L743.8 367.2L744.7 367.9L744.8 373.3L745.4 372.3L745.7 368.7L745.8 369.2L746.3 367.7L746.7 371.0L747.1 369.4L747.7 370.5L747.7 371.0L748.1 371.5L748.2 370.2L749.0 373.2L749.3 369.9L749.4 369.0L749.9 372.0L750.3 370.7L750.5 369.6L750.6 368.8L751.3 371.6L751.6 373.0L752.1 370.7L752.2 371.5L752.9 368.7L752.9 369.8L753.1 373.7L754.0 370.9L754.3 367.7L754.3 371.1L754.7 370.9L755.2 369.2L755.6 368.8L755.6 376.1L756.2 370.1L756.2 371.7L756.6 371.0L757.1 370.7L757.4 370.9L757.4 372.7L758.1 374.9L758.5 374.6L758.9 372.4L759.0 369.8L759.4 376.2L759.8 374.6L759.7 372.4L760.1 371.6L760.4 371.8L761.0 371.5L761.1 365.6L761.5 371.1L761.6 367.4L762.0 372.0L762.0 368.5L762.5 368.8L762.2 371.2L763.1 368.8L763.4 369.0L763.7 368.2L763.9 370.9L764.0 369.8L764.4 369.3L764.7 364.1L765.1 368.6L765.6 370.4L765.3 368.0L765.7 368.9L766.3 366.6L766.4 361.0L766.7 363.9L766.9 367.8L767.2 366.5L767.8 363.3L767.8 367.0L767.8 369.5L768.1 364.6L768.4 365.9L768.6 365.6L769.1 368.1L769.0 364.6L769.3 365.3L769.8 367.0L769.7 365.9L769.7 361.2L769.8 360.0L769.6 363.5L769.6 360.9L770.1 368.6L769.8 363.4L769.6 359.0L769.6 360.9L769.6 357.3L769.8 361.6L770.0 357.6L769.9 357.6L770.1 360.6L769.8 358.5L769.7 359.9L770.2 362.8L770.4 357.6L769.9 356.5L770.2 356.1L769.7 356.6L770.2 357.6L770.2 356.0L770.2 354.7L770.2 353.1L770.0 359.5L770.2 357.5L770.7 357.7L770.4 358.2L770.3 359.6L770.7 357.2L771.1 356.5L770.9 357.2L770.6 359.8L770.9 359.0L771.2 361.5L771.4 358.6L771.3 360.0L771.2 358.9L771.2 359.6L771.6 358.5L771.5 361.9L771.6 364.8L771.2 362.4L771.8 361.3L772.2 365.6L772.3 364.4L772.8 361.7L772.9 364.1L773.5 362.0L773.8 362.1L774.1 363.8L774.3 366.1L774.9 364.6L775.0 366.5L775.6 365.4L775.4 364.2L776.0 366.1L776.3 367.2L776.5 365.2L777.3 362.1L777.7 363.1L778.4 363.8L778.2 364.1L778.6 362.6L778.9 366.5L779.1 366.3L779.7 363.9L779.8 362.9L780.6 363.2L780.6 362.1L781.4 363.7L781.7 365.3L781.7 362.9L781.9 363.5L781.9 362.9L782.6 361.6L782.9 363.6L783.1 361.3L783.2 363.4L783.1 359.4L783.8 360.4L784.0 362.0L784.4 362.5L784.4 359.3L785.0 357.3L785.3 359.6L785.5 357.5L785.4 359.2L785.5 358.4L785.4 358.4L785.4 362.5L785.7 359.6L785.8 359.5L785.9 357.9L786.2 358.4L786.2 356.3L786.1 355.3L786.2 351.6L786.4 357.9L786.7 353.7L786.8 352.7L787.2 357.9L787.1 352.3L786.7 354.1L787.2 354.5L787.9 350.5L787.9 352.8L787.7 353.4L787.8 350.6L788.0 351.1L788.1 351.1L788.0 353.0L788.2 350.6L788.3 350.6L788.4 349.7L788.9 349.1L788.4 353.1L788.5 347.5L789.1 348.8L789.2 344.6L789.0 348.1L789.3 345.7L789.4 347.7L789.8 347.7L789.3 344.5L789.6 346.5L789.8 339.1L790.0 343.4L790.0 341.5L790.5 344.8L790.2 342.5L790.3 338.6L790.5 345.8L790.4 344.0L790.6 343.9L790.8 343.1L790.8 344.0L790.6 341.8L790.8 345.2L790.8 341.5L791.2 340.8L791.2 342.3L791.3 339.2L791.7 338.7L791.3 345.5L791.5 341.7L791.9 338.0L792.1 336.0L792.3 337.2L792.3 338.4L792.8 335.2L792.0 337.0L792.3 337.0L792.2 337.4L792.6 341.9L792.3 336.1L792.6 334.9L792.5 338.1L792.5 334.4L792.4 331.5L792.8 334.4L793.2 333.1L792.8 329.3L793.2 333.5L793.0 337.3L793.3 332.2L793.3 333.1L793.3 329.0L793.4 331.4L793.6 330.2L793.5 329.7L793.4 330.3L794.0 329.1L794.1 328.9L793.7 328.1L794.0 326.7L793.9 326.3L793.6 328.2L794.4 326.5L794.2 324.5L794.1 326.5L794.5 326.1L794.4 320.0L794.5 326.1L794.6 322.5L794.9 326.3L795.2 323.4L795.0 319.0L794.9 323.2L795.5 322.0L795.2 323.8L795.3 326.3L795.5 322.1L795.8 326.7L796.4 325.6L796.4 322.1L796.3 322.7L797.0 321.4L797.0 320.2L797.5 324.6L797.6 325.1L798.1 322.9L798.5 320.3L798.5 323.1L799.2 321.2L799.3 322.9L799.5 318.5L799.6 324.2L800.3 328.8L800.3 323.0L800.6 322.7L800.7 325.4L800.9 321.6L801.2 320.6L801.1 323.6L802.0 325.6L801.7 323.0L801.7 323.8L801.7 330.1L802.0 325.5L802.2 326.1L802.5 325.7L802.9 328.0L802.8 325.2L802.9 334.4L803.4 325.3L803.6 327.8L803.5 328.3L803.6 331.0L803.5 330.2L803.6 329.8L803.8 328.6L803.9 332.1L803.8 327.3L804.1 334.3L804.2 328.5L804.2 332.6L804.4 329.7L803.9 332.9L804.4 333.1L804.3 334.3L804.4 335.4L804.6 331.6L804.8 334.5L804.8 337.1L804.6 335.3L805.0 336.6L804.8 335.5L805.2 334.1L804.8 343.1L805.3 334.0L805.4 339.7L805.8 337.3L805.8 339.5L805.9 341.3L806.4 339.0L806.7 340.1L806.3 342.9L807.1 338.4L807.2 340.9L807.9 338.0L807.7 341.0L807.8 338.0L808.4 338.7L808.6 340.5L808.7 342.5L808.8 340.6L809.4 340.6L809.0 342.6L809.4 339.2L810.3 343.9L810.5 340.6L811.0 339.3L811.2 342.2L812.0 342.2L811.8 341.5L812.4 339.1L813.2 342.9L813.2 343.7L813.3 344.9L814.2 344.3L814.2 343.4L814.6 341.7L815.0 343.5L815.4 344.3L815.7 343.4L816.1 346.2L816.3 343.6L816.6 349.0L816.8 343.3L817.6 343.7L817.6 342.3L818.2 341.4L818.5 342.3L818.7 342.6L819.2 342.1L819.5 344.2L819.6 344.7L820.4 343.4L820.4 342.0L821.1 342.5L821.0 343.7L821.6 341.6L822.0 344.7L822.2 337.1L822.5 344.0L823.0 343.2L823.5 338.7L823.3 342.6L823.8 341.4L824.1 342.8L824.3 343.2L824.2 344.2L824.7 343.0L825.2 340.4L825.3 346.1L825.8 340.7L825.9 344.6L825.9 340.5L826.2 340.6L826.7 338.9L826.7 341.3L827.3 337.3L827.2 340.1L827.6 335.0L827.7 339.1L827.7 336.5L828.2 338.7L828.8 342.5L828.9 338.2L829.3 334.5L829.3 340.7L829.4 341.4L829.8 338.0L830.3 333.5L830.7 338.9L830.4 335.5L830.9 334.6L831.1 334.6L831.5 338.8L831.6 334.5L831.9 334.1L832.6 336.1L833.2 333.4L833.1 334.5L833.5 336.6L833.4 334.4L834.3 335.3L834.3 334.3L834.4 337.9L835.3 331.8L835.5 335.3L835.4 341.2L836.1 336.8L835.9 334.1L836.4 333.5L835.8 334.1L836.9 337.7L836.8 337.7L837.2 335.4L837.1 338.0L837.7 336.1L838.2 340.1L838.5 338.2L838.6 338.9L839.0 335.5L839.5 337.6L839.8 337.3L839.8 338.7L840.5 338.8L840.8 338.2L840.8 339.1L841.6 337.1L841.8 337.5L842.2 337.5L842.6 337.5L842.3 335.7L843.3 338.3L843.7 338.3L844.0 337.8L844.1 342.7L844.3 332.9L844.5 335.9L844.9 338.0L845.0 338.3L845.8 337.2L846.2 337.4L846.5 336.4L846.7 337.1L847.0 333.0L846.9 337.7L847.1 340.9L847.0 337.0L847.5 339.2L847.3 332.2L847.3 340.1L847.4 338.5L847.9 340.6L847.9 340.2L848.2 342.3L848.4 341.7L848.6 340.7L848.7 337.1L848.1 342.2L848.6 340.8L848.7 340.8L848.9 342.2L848.9 343.7L849.1 344.0L849.5 342.8L849.4 345.2L849.8 344.2L849.8 344.3L849.9 344.9L850.3 346.0L850.4 343.3L850.9 345.0L850.7 347.3L851.0 348.2L851.3 346.9L851.7 348.3L851.8 348.8L851.5 345.7L852.2 349.0L852.6 349.6L852.7 347.4L852.7 348.7L853.1 348.5L853.1 347.5L853.1 347.0L853.4 348.1L853.9 349.8L854.3 350.2L854.4 350.9L855.1 349.1L855.2 353.7L855.6 344.5L855.6 350.2L855.9 345.5L856.5 351.4L856.3 354.3L856.7 350.6L857.0 353.8L857.5 352.7L858.0 349.1L857.9 354.1L858.5 352.3L858.7 352.1L859.2 349.5L859.6 351.1L859.9 352.3L860.2 355.2L860.7 355.1L860.8 347.1L860.9 351.7L861.4 356.3L861.4 355.6L862.0 355.6L861.8 355.0L862.0 358.5L861.8 355.8L862.2 353.8L862.8 353.4L862.7 356.3L862.9 358.4L863.3 356.4L863.2 358.4L863.5 355.7L863.8 356.7L864.1 358.3L864.2 359.6L864.4 357.5L864.8 359.1L865.1 362.4L865.1 353.0L865.4 359.7L865.9 359.8L866.3 358.9L866.9 359.8L866.8 363.2L867.0 362.9L867.7 359.3L867.9 358.4L868.4 358.5L868.5 360.1L868.7 359.1L869.2 358.2L869.6 359.2L869.7 360.6L870.3 362.9L870.4 361.6L870.9 362.1L870.9 360.1L871.1 363.2L871.6 359.9L871.9 362.6L872.4 366.1L872.6 362.9L872.9 361.7L872.9 361.4L873.7 365.2L874.0 363.4L874.5 363.4L874.5 364.7L874.6 362.3L875.5 365.1L875.4 362.0L875.8 362.0L875.9 367.6L876.1 367.1L876.0 369.3L876.5 365.3L877.1 367.0L877.1 367.9L877.2 363.8L877.4 366.9L877.3 368.4L877.5 369.3L877.9 372.3L878.1 368.5L878.7 366.9L878.9 370.9L879.5 362.3L879.8 368.1L879.6 366.5L880.4 370.5L880.3 365.6L881.0 369.5L881.4 368.0L881.5 365.0L881.9 367.9L882.5 366.3L882.7 366.6L882.8 366.4L883.1 368.0L883.4 363.9L883.3 367.3L883.8 366.4L884.1 363.0L884.3 364.4L884.5 363.0L884.7 364.7L884.6 362.2L885.0 361.7L885.4 362.7L885.5 363.1L886.0 363.2L886.1 361.3L886.3 364.9L886.8 364.5L886.6 361.1L887.1 361.2L887.6 359.8L887.5 359.5L887.8 360.0L888.3 356.8L888.5 361.1L888.9 362.5L889.1 359.1L889.2 356.5L889.4 357.9L889.8 358.2L890.0 358.0L890.4 359.4L890.5 355.9L890.9 357.9L891.2 352.0L892.2 358.5L892.1 358.8L892.7 360.6L892.7 357.3L893.2 359.5L892.9 357.4L893.9 355.9L894.3 362.3L894.6 355.5L895.2 355.7L895.5 358.0L895.3 359.0L896.0 357.3L896.2 356.9L896.9 356.1L897.7 356.8L897.5 356.7L898.0 358.4L898.4 359.1L898.7 356.7L899.2 356.4L898.9 353.3L899.3 360.8L899.8 361.2L899.4 357.8L900.1 360.8L900.1 363.0L900.1 360.7L900.5 358.1L900.9 360.3L900.6 359.0L900.9 363.9L901.2 364.2L901.4 362.8L901.6 360.8L901.4 361.8L901.6 361.0L901.7 362.6L901.7 364.8L902.2 360.9L902.5 363.2L902.1 365.4L902.5 365.0L903.0 365.6L903.0 364.0L902.8 367.4L903.0 365.9L903.0 364.6L903.2 367.9L903.3 367.3L903.5 368.0L903.6 367.6L903.7 368.6L904.0 368.8L904.0 371.2L904.5 368.7L904.1 371.7L904.9 365.5L904.5 371.1L905.5 374.8L905.0 371.4L905.7 372.9L905.6 373.1L906.4 373.4L906.3 374.6L906.5 371.8L906.8 372.6L907.4 376.9L907.4 372.1L907.7 372.9L907.5 371.9L907.9 375.1L907.9 373.5L908.6 372.5L908.9 376.3L909.2 371.0L909.3 375.0L909.5 375.8L910.0 376.5L910.4 377.5L910.6 376.4L911.1 374.8L911.6 374.8L911.7 382.4L912.0 376.1L912.1 378.8L912.4 379.2L912.9 373.3L913.1 372.7L913.6 374.8L913.9 378.0L914.3 378.7L914.3 374.0L914.5 377.8L914.8 376.4L915.3 380.5L915.3 378.3L915.8 373.0L916.2 378.8L916.3 377.8L916.6 383.8L916.8 377.1L917.3 378.4L917.6 383.1L917.9 379.8L918.4 381.2L918.8 380.5L919.1 380.9L919.3 379.5L919.8 381.6L920.0 379.4L920.3 380.8L920.3 380.8L920.9 379.2L921.4 381.5L922.0 382.1L922.2 380.5L922.6 382.9L923.0 383.8L923.2 383.2L923.8 381.2L923.9 381.6L924.3 380.5L924.9 381.0L925.1 381.7L925.3 379.9L925.8 379.6L926.3 380.6L926.9 380.1L926.8 382.4L927.3 383.0L927.7 381.4L928.1 381.3L928.0 379.4L929.0 380.5L929.3 383.0L929.5 380.3L929.8 379.7L930.2 379.2L930.1 383.2L930.6 384.1L931.0 382.9L931.8 384.3L932.0 381.2L932.2 386.3L932.8 382.8L933.2 381.3L933.1 379.3L933.8 380.6L934.0 379.2L934.5 387.1L934.5 386.1L934.6 385.7L935.4 389.0L935.8 385.8L936.2 384.1L936.6 383.9L936.8 385.4L937.1 386.7L937.9 385.0L937.9 382.2L938.2 381.3L938.6 383.7L938.9 382.7L939.1 388.6L939.5 382.9L939.6 383.5L939.7 383.8L940.1 386.0L940.1 384.2L940.3 383.3L940.0 384.4L940.8 381.9L940.2 383.0L940.5 380.4L940.7 382.2L940.8 381.8L940.9 378.0L940.8 376.2L940.8 378.9L941.0 377.4L941.1 379.6L941.0 379.1L941.5 378.7L941.2 377.1L941.6 377.2L941.5 377.5L941.7 380.7L941.7 375.7L941.9 379.8L941.6 379.6L941.8 374.3L942.1 372.7L942.1 376.0L942.3 373.9L942.1 377.1L942.4 376.7L942.2 374.4L942.5 377.1L942.7 368.9L942.9 374.7L942.7 377.7L942.8 375.6L942.8 377.1L942.9 377.7L943.1 378.4L943.0 374.6L943.7 377.1L943.3 379.5L943.6 384.1L944.1 375.4L944.4 379.6L944.5 381.3L944.7 378.6L945.0 378.9L945.2 381.2L945.5 378.2L945.4 386.3L945.8 379.8L946.0 379.1L946.1 381.2L946.3 384.2L946.6 385.8L946.7 381.1L947.1 382.6L947.4 386.4L947.6 385.5L947.5 380.5L948.1 382.9L948.3 383.9L948.6 383.6L948.9 385.2L948.9 384.4L949.5 383.8L949.7 384.6L949.8 386.2L950.5 386.0L950.3 385.0L950.6 388.6L950.7 386.5L951.0 390.4L951.3 388.9L951.7 387.9L952.3 385.5L952.1 383.2L952.4 386.0L952.7 390.1L953.4 382.1L953.9 387.8L953.9 389.6L953.8 387.5L954.4 388.8L954.5 391.7L954.9 388.0L955.6 389.9L955.9 388.7L956.3 387.2L956.3 391.3L956.9 387.4L956.6 388.7L957.1 388.7L957.7 388.5L958.2 389.6L958.6 391.3L958.8 391.3L959.2 391.5L959.6 393.6L959.9 392.1L960.4 388.0L960.4 391.4L960.9 391.6L961.2 392.3L961.4 391.0L961.9 391.6L962.5 391.7L962.9 390.7L963.3 389.3L963.7 395.1L963.7 390.6L964.3 391.6L964.2 395.3L964.6 392.0L965.2 389.8L965.4 390.0L965.9 390.4L966.1 388.6L966.4 390.2L967.1 393.2L967.0 388.9L967.5 388.1L967.9 390.2L968.2 387.5L968.6 389.1L969.3 389.9L969.4 388.6L969.5 388.5L969.8 387.7L970.5 386.5L970.5 388.7L971.1 392.2L971.1 390.5L971.6 391.7L971.8 392.0L972.3 389.3L972.7 391.7L972.8 389.5L973.2 391.0L973.8 388.8L974.3 388.1L974.4 391.8L974.9 388.8L975.4 387.5L975.3 387.4L975.9 386.4L976.2 388.1L976.7 386.8L976.8 389.3L977.2 387.9L977.4 387.7L977.9 388.6L978.3 389.2L978.8 387.5L978.9 387.5L979.2 387.4L980.3 387.2L980.2 386.3L980.3 386.9L980.5 387.8L980.6 385.8L980.7 386.9L981.4 387.8L981.2 383.5L981.5 385.1L981.5 387.6L981.5 380.6L982.3 388.9L982.4 381.8L981.9 384.5L983.0 382.4L982.3 376.7L983.0 379.7L983.1 381.6L983.2 383.5L983.4 384.4L983.5 383.4L984.2 380.3L984.0 380.3L983.8 380.5L984.3 376.8L984.3 378.2L984.9 380.5L984.6 381.0L984.7 380.9L985.5 377.9L985.1 380.7L986.1 375.2L986.1 377.8L986.2 379.0L986.6 375.1L986.7 374.3L987.1 378.0L987.2 377.4L988.0 377.3L987.6 376.9L988.1 378.7L988.3 373.9L988.7 379.9L988.5 376.6L989.0 373.1L989.3 373.5L989.1 371.7L989.8 374.2L990.0 371.1L990.6 376.8L991.2 374.5L991.4 371.7L991.6 372.2L991.7 372.4L992.2 373.0L992.1 374.1L993.0 371.9L992.9 371.5L993.7 371.7L993.9 372.3L994.2 373.6L995.0 370.6L994.9 369.3L995.2 372.0L995.6 372.1L995.8 368.8L996.1 368.1L996.7 371.6L997.1 372.9L997.3 372.7L997.8 371.1L997.9 367.1L998.4 371.8L998.9 377.5L999.0 372.3L999.5 368.0L999.9 369.5L1000.1 364.7L1000.1 369.7L1000.2 369.4L1000.7 372.3L1000.7 374.0L1000.9 370.0L1001.2 375.5L1001.4 372.6L1001.6 375.6L1001.4 374.0L1002.0 375.3L1002.1 375.1L1001.9 376.0L1002.0 374.8L1002.9 376.9L1002.8 375.9L1002.8 377.0L1003.3 376.9L1003.5 376.6L1004.0 377.5L1003.5 373.6L1003.9 378.8L1004.3 380.8L1004.5 378.9L1004.6 379.3L1004.6 380.3L1004.7 380.0L1004.9 378.9L1005.3 379.6L1005.8 380.8L1005.8 378.6L1006.2 380.0L1006.5 378.4L1006.7 382.9L1006.8 382.8L1007.2 380.9L1007.6 381.2L1008.0 381.6L1008.0 382.4L1008.5 383.5L1008.7 382.2L1008.9 383.9L1009.2 384.4L1009.4 384.9L1009.6 387.7L1009.9 383.5L1010.0 386.4L1010.1 384.5L1011.1 385.4L1011.0 385.4L1011.2 382.1L1011.8 383.0L1011.8 383.4L1012.6 381.1L1012.9 384.0L1013.4 388.7L1013.3 386.3L1013.9 387.4L1014.4 383.9L1014.7 390.6L1014.6 389.5L1015.3 385.6L1015.4 386.7L1015.8 385.8L1016.7 385.6L1016.3 386.5L1017.1 385.2L1017.2 386.0L1017.4 387.0L1017.6 387.6L1018.4 389.5L1018.6 388.4L1018.9 382.3L1018.9 389.8L1019.2 387.6L1019.7 388.9L1019.7 390.5L1020.3 389.5L1020.5 389.3L1021.0 387.7L1021.4 389.4L1021.4 389.1L1021.5 390.1L1022.0 389.7L1022.3 391.9L1022.6 390.4L1022.9 389.8L1023.3 389.4L1023.9 391.9L1023.9 392.3L1024.1 392.9L1024.5 393.1L1024.9 390.5L1025.0 391.6L1025.7 394.0L1025.8 395.3L1026.5 392.4L1026.7 395.8L1027.4 388.3L1027.0 392.5L1027.8 393.3L1028.2 390.8L1028.2 390.0L1028.9 392.6L1029.0 391.7L1029.2 391.5L1029.8 392.6L1030.1 395.9L1030.8 394.6L1030.6 394.8L1031.3 393.9L1031.6 393.5L1031.8 399.4L1032.0 391.9L1032.2 395.8L1033.1 394.7L1033.2 394.1L1033.7 393.9L1034.1 394.8L1034.5 392.7L1034.4 395.2L1035.0 393.7L1035.5 391.1L1035.7 396.3L1036.0 395.2L1036.3 392.5L1036.7 398.0L1036.8 395.7L1037.3 395.4L1037.8 395.7L1037.9 397.5L1038.3 391.2L1038.8 396.9L1039.1 396.0L1039.8 394.3L1040.0 394.1L1040.3 395.4L1040.2 395.4L1040.7 393.9L1041.2 392.2L1041.4 392.7L1041.7 394.7L1042.1 393.7L1042.5 388.9L1042.7 393.4L1042.9 394.5L1043.2 391.9L1043.6 392.0L1043.8 391.6L1044.2 391.4L1044.2 393.6L1044.7 394.2L1044.7 394.0L1045.3 395.5L1045.5 393.4L1045.9 395.9L1046.2 391.5L1046.6 389.9L1046.7 390.4L1047.2 390.7L1047.3 390.1L1047.5 387.8L1048.0 388.5L1048.2 390.4L1048.1 389.4L1048.2 388.6L1048.8 387.1L1048.3 387.0L1049.0 389.1L1049.5 384.4L1049.4 386.9L1049.7 385.3L1050.0 386.0L1049.7 390.7L1050.1 387.0L1050.5 384.7L1050.7 385.1L1050.6 384.9L1050.8 386.0L1051.3 384.7L1051.1 383.9L1051.7 386.1L1051.9 380.0L1052.1 379.7L1052.4 379.9L1052.3 384.7L1052.4 386.3L1052.9 382.4L1053.0 380.6L1053.3 382.1L1053.7 380.8L1053.7 380.7L1054.0 383.5L1054.0 382.4L1054.3 379.7L1054.3 380.1L1054.9 378.7L1055.0 377.6L1055.3 376.5L1055.4 379.6L1055.7 378.5L1055.9 380.1L1055.9 376.6L1056.5 377.8L1056.1 378.1L1056.8 377.4L1056.7 375.1L1057.5 376.5L1057.9 377.8L1058.0 376.7L1058.5 375.6L1058.8 373.3L1059.0 374.5L1059.2 375.7L1059.2 376.3L1059.9 376.4L1059.9 377.1L1060.1 383.1L1060.6 378.1L1060.1 376.2L1060.5 377.2L1060.6 378.6L1060.9 376.4L1060.4 376.4L1061.3 380.0L1061.0 379.4L1061.4 386.1L1061.6 382.1L1061.7 380.5L1061.7 382.2L1062.3 379.6L1062.5 380.9L1062.3 382.3L1062.4 382.1L1062.9 382.1L1063.0 384.8L1063.2 383.4L1063.5 383.4L1063.6 383.7L1063.7 386.9L1063.7 385.7L1064.2 385.3L1064.7 382.4L1064.8 384.4L1064.8 379.0L1065.1 385.1L1065.2 387.0L1065.6 385.8L1065.6 380.9L1066.0 384.6L1066.6 384.6L1066.3 385.3L1066.6 385.7L1066.9 387.8L1067.2 388.1L1067.1 388.8L1067.5 388.4L1067.8 386.8L1067.9 392.5L1068.1 390.9L1068.4 389.0L1068.3 392.3L1069.0 387.1L1068.7 389.2L1069.1 394.6L1069.2 390.7L1069.7 393.0L1069.9 390.9L1069.9 388.9L1070.9 392.2L1071.1 393.8L1070.7 393.1L1071.4 392.2L1071.6 393.4L1071.6 393.2L1072.0 394.2L1072.4 398.3L1072.5 396.2L1072.9 391.7L1073.1 395.2L1073.5 395.0L1074.1 393.9L1074.1 395.8L1074.7 400.2L1075.2 392.3L1075.6 393.8L1075.9 396.5L1076.3 394.0L1076.2 396.2L1077.0 395.8L1077.1 394.8L1077.2 394.5L1077.7 394.9L1078.4 399.5L1078.6 395.5L1079.0 396.5L1079.6 393.0L1080.1 392.1L1080.4 396.4L1080.7 395.3L1081.1 394.0L1081.5 392.2L1081.9 395.8L1081.9 394.3L1082.0 394.5L1082.9 396.0L1083.4 395.2L1083.2 393.8L1083.8 395.4L1084.1 393.3L1084.7 395.4L1084.6 393.4L1085.5 392.2L1085.5 388.9L1085.4 396.5L1086.1 393.5L1086.9 394.7L1087.1 397.3L1087.3 395.4L1087.5 395.1L1088.0 392.8L1088.1 395.3L1088.3 396.9L1088.7 391.9L1089.8 400.4L1089.6 396.2L1089.9 395.0L1090.5 397.4L1091.1 394.5L1091.4 395.3L1091.4 395.5L1091.3 388.9L1092.3 394.4L1092.6 395.9L1092.5 397.6L1093.4 395.4L1093.7 396.3L1093.8 397.0L1094.3 396.7L1094.6 396.3L1095.0 394.7L1095.4 389.4L1095.9 395.7L1096.2 392.3L1096.6 395.5L1096.5 395.4L1097.0 394.7L1097.6 394.6L1097.9 402.7L1098.0 396.7L1098.8 395.6L1098.7 399.5L1098.9 397.7L1099.6 396.9L1099.6 401.0L1100.6 397.6L1100.8 396.9L1100.9 396.0L1101.9 394.4L1101.9 396.7L1102.0 393.1L1102.5 397.0L1103.2 397.5L1103.5 394.5L1103.2 397.7L1103.7 397.3L1104.6 396.1L1104.7 394.9L1105.0 400.0L1105.1 395.4L1105.9 396.8L1106.3 396.9L1106.3 395.5L1107.0 399.3L1107.3 393.5L1107.2 397.4L1107.8 402.1L1108.1 397.6L1108.3 395.1L1109.0 397.5L1109.0 394.3L1109.5 396.3L1109.9 397.2L1110.1 400.1L1110.8 394.4L1111.0 394.2L1111.3 397.4L1111.8 399.7L1112.0 398.2L1112.6 395.8L1113.0 393.1L1113.2 395.9L1113.3 392.9L1113.8 396.4L1114.3 395.4L1114.6 396.6L1114.3 397.7L1115.3 396.6L1115.5 393.2L1116.3 395.9L1116.0 400.1L1116.9 397.4L1117.0 395.5L1117.0 396.6L1117.8 398.0L1118.1 392.0L1118.3 397.0L1118.9 399.1L1119.2 395.2L1119.7 397.1L1119.7 395.4L1120.0 396.4L1120.4 397.8L1121.3 401.8L1120.8 400.2L1121.5 394.8L1122.3 396.0L1122.3 399.4L1122.7 394.0L1123.0 399.4L1123.3 397.3L1123.7 399.5L1123.8 393.4L1124.9 396.7L1124.9 396.4L1125.3 399.8L1125.0 395.6L1125.7 400.0L1126.2 395.0L1127.0 396.6L1127.1 396.5L1127.5 396.5L1127.7 398.5L1128.0 397.2L1128.3 399.1L1128.8 397.2L1129.0 399.2L1129.3 399.7L1129.6 397.8L1129.6 399.4L1130.3 396.1L1130.4 401.5L1131.4 392.7L1131.3 400.7L1131.6 398.4L1132.1 399.4L1132.3 396.7L1132.9 397.7L1133.1 400.9L1133.3 392.2L1133.8 396.0L1134.4 399.0L1134.8 398.2L1134.9 398.8L1135.3 397.3L1136.0 400.2L1136.2 392.8L1136.6 401.3L1136.9 397.5L1137.2 399.2L1137.4 398.6L1137.8 400.3L1138.5 397.2L1138.5 397.3L1138.8 393.5L1139.2 398.2L1139.6 397.3L1139.7 397.1L1139.8 396.7L1140.7 400.4L1140.9 396.9L1141.4 403.7L1141.9 397.9L1142.1 396.1L1142.5 397.1L1142.7 400.0L1143.0 397.0L1143.5 395.9L1144.1 397.5L1144.1 399.8L1145.2 401.3L1144.7 399.5L1145.2 399.9L1145.6 400.2L1146.2 400.7L1146.4 397.4L1146.7 399.7L1146.7 401.0L1147.4 402.8L1148.0 400.7L1148.2 398.8L1148.6 405.1L1149.0 402.1L1149.3 399.5L1149.7 400.7L1149.7 395.3L1150.2 402.0L1150.0 402.9L1151.3 393.6L1151.3 400.2L1151.2 398.8L1152.2 399.0L1152.5 401.0L1153.1 400.5L1153.2 400.1L1153.5 400.1L1153.9 398.6L1154.3 400.9L1154.7 401.9L1154.8 399.6L1155.1 399.6L1155.5 398.2L1156.2 395.4L1156.4 403.0L1156.6 400.4L1157.0 403.1L1157.4 398.8L1157.8 398.3L1157.7 398.4L1158.4 400.3" fill="none" stroke="#000" stroke-width="2.2" stroke-linejoin="round"/>
<path clip-path="url(#cb)" d="M634.4 419.9L634.5 420.3L634.1 420.8L634.7 419.2L635.1 420.8L634.6 422.3L635.5 421.5L634.9 421.0L635.9 423.8L635.9 421.2L636.4 424.1L636.2 420.8L636.1 419.0L636.6 420.9L636.8 422.1L636.8 422.4L636.8 421.4L637.1 420.8L637.5 422.0L637.1 420.5L637.2 420.6L637.5 420.7L638.2 420.2L638.1 419.7L637.9 419.0L637.6 421.0L638.1 418.9L638.2 420.0L638.3 419.3L638.9 417.4L639.2 418.2L639.3 417.3L640.1 418.0L640.0 416.9L640.3 415.6L640.6 417.2L640.9 416.6L642.1 416.2L641.3 414.3L641.7 416.9L642.0 415.4L643.0 415.6L642.7 415.1L643.3 415.6L643.4 416.0L643.7 416.8L644.6 412.1L644.1 416.0L645.1 416.2L644.9 419.3L645.2 414.6L645.7 416.1L646.2 415.3L646.8 416.4L646.9 418.8L647.2 416.6L647.5 416.0L647.5 415.8L648.0 417.6L648.3 417.3L649.0 420.2L648.6 418.6L649.5 418.9L649.0 419.6L649.6 418.3L649.6 417.8L649.9 418.2L649.9 419.5L650.0 420.6L650.6 418.9L651.1 419.9L651.1 420.9L651.0 419.2L651.9 419.2L652.1 423.1L652.6 420.9L652.1 422.0L652.6 422.6L652.9 421.8L652.7 422.7L652.8 422.0L653.1 423.0L653.0 424.3L653.3 425.4L653.4 423.7L653.8 420.7L653.4 426.2L654.1 424.8L654.5 424.7L654.4 426.4L655.0 428.1L654.5 425.7L655.0 427.7L655.3 428.4L655.2 427.4L655.1 429.6L654.8 429.8L655.6 427.3L655.8 430.2L656.5 431.1L656.0 429.2L657.2 428.0L656.4 428.0L657.2 429.8L656.5 428.0L657.6 429.0L657.9 430.5L658.2 431.7L657.9 430.7L658.2 430.9L658.3 434.9L658.5 430.9L659.1 432.6L658.7 435.7L659.4 433.3L659.8 435.4L659.3 431.5L659.7 433.7L659.9 435.4L660.4 437.8L659.9 436.4L659.7 434.2L660.1 435.4L660.3 436.0L661.3 437.6L661.1 437.4L661.5 437.1L661.1 438.1L661.5 437.7L661.7 442.2L662.3 439.6L662.4 439.1L661.9 439.0L662.3 442.6L662.4 441.6L662.4 441.4L662.4 438.8L662.6 439.4L663.4 442.4L663.2 442.2L663.4 442.7L663.4 443.0L663.8 444.4L664.1 441.5L664.6 442.3L664.7 441.8L665.1 443.4L664.5 444.1L665.9 446.1L665.5 444.2L665.4 442.6L665.8 444.9L666.4 445.7L665.9 445.4L666.9 444.6L667.3 443.6L667.0 446.7L667.0 446.8L667.7 446.8L667.8 448.4L668.4 446.0L668.8 446.2L668.7 447.4L669.6 447.4L669.1 448.2L669.6 448.9L669.5 450.0L669.9 448.0L670.4 446.3L671.0 449.5L670.7 450.5L670.5 448.7L671.2 450.4L671.7 451.9L672.0 450.5L673.0 449.2L673.3 448.8L673.6 451.5L672.4 448.9L673.3 452.6L673.7 451.7L674.4 452.4L674.4 450.9L674.3 452.9L675.3 452.6L675.3 451.8L675.9 452.0L676.0 453.3L676.3 453.6L677.2 453.8L676.8 454.4L677.7 452.9L677.8 454.2L678.2 453.1L678.3 455.7L678.6 453.6L678.6 452.2L679.1 455.6L679.2 453.5L679.8 454.6L680.0 454.9L680.7 455.2L681.2 454.5L681.5 454.3L681.3 457.6L682.1 454.8L682.5 454.2L682.4 455.2L682.2 451.8L682.7 455.7L682.8 457.0L683.5 457.9L684.0 455.6L684.4 454.5L684.7 455.9L684.8 458.8L685.4 456.8L685.2 458.1L686.1 456.7L686.2 457.8L686.6 460.8L686.7 459.3L687.4 457.6L687.7 456.4L687.7 456.6L688.4 456.4L688.9 458.7L689.4 459.2L689.7 457.5L690.1 459.1L690.1 458.6L690.4 457.2L691.2 457.2L691.1 457.6L691.8 459.0L691.7 457.2L692.9 459.5L691.8 458.2L693.1 458.2L693.5 458.4L693.7 457.8L693.8 458.2L694.1 459.2L694.8 459.1L695.1 458.9L695.4 461.6L696.0 458.8L696.3 457.5L696.3 458.6L696.7 458.8L697.3 461.9L697.2 458.6L698.2 457.7L698.3 459.7L698.5 457.7L699.2 455.8L699.6 459.6L699.8 459.6L700.3 457.3L700.3 459.5L700.7 459.6L701.6 462.5L701.5 462.6L702.1 457.5L702.1 456.5L702.9 458.6L702.8 460.0L703.6 459.0L703.6 459.7L704.4 457.4L704.5 459.1L704.5 459.2L705.4 459.0L706.1 458.9L705.2 457.8L705.5 460.0L706.3 459.4L706.4 459.7L706.8 459.6L707.5 459.4L708.0 460.1L708.1 461.3L708.2 460.9L708.5 461.1L709.4 460.4L709.8 459.1L710.5 461.0L710.2 460.4L711.2 461.6L711.0 462.2L711.2 460.0L711.5 462.1L712.2 462.0L712.2 462.2L712.5 462.4L713.4 461.8L713.6 463.7L713.3 463.3L713.7 462.8L713.8 463.1L714.9 462.7L714.8 463.2L715.7 460.8L715.6 462.1L716.4 461.7L717.2 461.8L717.3 464.8L717.1 466.0L717.4 461.7L718.4 464.0L718.3 464.1L718.6 463.0L719.5 463.2L719.8 464.1L720.2 463.0L720.2 462.1L720.3 461.0L720.4 462.8L720.9 464.0L721.4 462.6L721.3 462.5L722.1 462.9L722.3 460.5L723.3 461.2L722.5 462.2L723.5 462.0L723.1 461.9L724.1 459.5L724.6 463.4L724.5 460.5L725.1 460.9L725.7 462.0L725.9 461.2L725.9 461.4L726.6 460.5L726.7 461.8L727.6 463.4L727.5 461.4L727.6 462.3L727.8 462.2L728.7 461.9L728.9 462.1L729.1 464.3L729.3 463.7L729.7 462.9L730.5 463.7L730.4 463.0L730.8 463.2L731.7 462.8L731.6 465.2L731.8 465.5L732.5 464.0L732.2 464.0L732.4 465.2L733.8 463.4L733.6 464.1L734.2 463.2L734.5 464.9L734.9 463.7L735.4 465.4L735.4 464.3L735.4 464.1L736.0 464.4L736.5 462.3L737.3 463.7L737.2 462.6L737.3 463.5L737.3 463.3L738.2 462.5L739.0 463.5L738.8 464.7L739.1 463.2L739.6 466.2L739.8 463.6L740.8 462.7L740.3 465.2L741.8 464.2L741.7 465.3L742.2 464.4L742.4 463.7L742.7 466.6L743.1 465.0L743.6 463.7L743.7 463.4L744.0 463.9L744.6 462.8L744.6 463.6L744.6 465.0L745.3 465.0L745.9 461.8L746.1 464.9L747.0 464.5L746.3 463.2L746.9 466.0L747.6 466.6L748.1 462.8L748.4 464.4L748.0 464.1L749.1 464.6L749.5 466.6L750.0 465.7L749.7 463.5L750.1 465.2L750.3 460.3L751.1 464.4L751.0 462.6L752.1 462.4L752.3 465.6L752.3 461.2L753.0 463.5L752.9 465.2L753.5 463.1L754.1 464.0L754.6 462.8L754.6 465.4L755.4 463.4L755.5 464.7L755.7 464.2L755.6 464.6L756.5 466.9L756.7 464.3L757.0 464.4L757.6 465.2L758.0 464.6L757.9 462.9L758.4 465.2L758.8 463.5L759.5 460.5L759.6 462.6L759.8 461.7L760.2 463.2L760.5 461.9L760.8 462.3L761.1 459.6L761.4 463.2L761.5 462.1L761.9 462.1L762.6 461.5L763.2 461.9L763.1 463.1L763.6 462.5L763.6 462.2L763.5 463.4L765.0 462.2L765.4 461.4L764.7 462.7L766.0 462.6L766.3 462.8L766.5 461.1L766.8 461.3L767.4 460.7L766.8 458.9L768.0 460.2L767.8 461.0L767.7 459.8L768.6 458.3L768.3 459.7L768.7 460.0L769.9 460.8L769.8 458.9L770.1 459.0L770.1 458.7L770.5 457.1L770.4 457.8L770.2 457.5L770.5 458.2L770.5 456.9L771.0 456.7L770.6 456.5L770.7 454.9L771.0 454.3L771.5 456.1L771.0 455.1L771.6 457.3L772.1 456.5L771.9 457.4L771.7 457.4L771.8 456.5L772.4 456.8L772.3 457.3L772.1 459.9L772.8 460.4L772.8 458.3L772.9 459.3L772.8 461.2L773.4 459.4L773.5 462.5L773.5 461.7L774.0 462.3L773.6 462.7L774.5 460.8L774.9 462.8L775.2 459.5L776.3 458.6L775.8 460.9L776.7 459.5L776.6 459.4L777.0 460.9L777.7 459.0L778.2 460.0L778.0 461.7L778.3 460.8L778.6 457.8L779.2 461.2L778.8 458.9L779.5 457.3L779.5 453.9L780.1 458.3L780.4 458.1L780.6 457.9L781.2 457.3L781.3 456.4L781.7 455.4L782.7 457.1L782.1 456.7L783.0 455.4L783.1 454.1L783.4 455.2L783.4 456.5L784.6 453.6L784.9 456.2L784.3 454.7L785.4 455.4L785.2 456.6L785.8 454.4L786.0 458.4L786.3 456.0L786.4 455.5L786.9 454.9L786.8 455.1L788.1 453.6L788.1 454.6L787.8 453.8L788.4 453.0L788.4 452.3L788.5 453.2L788.3 454.5L788.4 453.0L788.9 451.1L789.1 451.3L788.6 451.5L789.8 449.5L789.7 450.0L790.1 449.3L790.1 449.8L790.2 450.5L790.3 447.7L790.0 447.2L790.7 448.9L790.3 449.7L791.2 444.8L790.4 448.0L791.1 448.1L791.2 445.6L792.3 446.2L791.3 446.4L791.8 445.7L791.9 445.2L792.1 444.7L792.9 445.1L792.8 444.4L792.8 443.7L792.8 444.7L793.3 445.1L793.7 442.8L793.7 443.4L793.8 442.4L794.3 442.2L794.3 440.3L794.9 442.0L795.1 440.6L795.4 443.2L795.8 444.0L796.0 442.2L796.5 441.4L797.2 438.7L796.6 437.7L796.6 438.2L797.1 438.5L797.0 439.8L796.8 438.9L797.1 439.5L797.5 438.2L797.6 438.4L797.2 437.1L797.6 437.9L797.6 437.2L797.8 436.4L798.0 439.0L797.6 436.4L798.5 435.8L797.9 434.2L798.3 434.4L797.7 435.1L798.9 433.4L798.3 434.7L798.6 434.7L798.8 435.9L798.8 435.2L798.5 437.0L798.8 436.4L799.2 436.3L799.2 435.4L798.9 437.8L799.3 437.9L799.4 439.3L799.3 437.2L799.3 439.0L799.3 440.0L800.2 438.4L799.7 440.4L799.9 439.4L800.3 439.7L799.9 441.5L800.0 441.6L800.7 441.9L800.4 439.6L801.5 441.1L800.8 441.6L800.9 439.2L801.5 441.4L801.5 440.5L801.6 441.3L802.4 440.2L802.3 438.2L802.2 439.5L802.5 438.1L802.9 438.3L803.1 436.8L803.4 437.7L803.7 438.5L803.1 436.7L804.2 439.4L803.7 438.4L804.3 440.1L804.4 440.7L803.6 439.5L804.2 439.1L804.4 440.6L804.4 439.3L804.8 440.5L805.1 441.6L805.0 442.7L805.0 441.8L805.5 442.9L805.7 440.1L806.1 441.6L805.9 444.6L806.0 441.3L806.8 442.3L805.8 443.7L806.8 444.4L806.9 445.9L807.4 446.8L806.8 445.6L807.5 446.1L807.8 447.8L807.4 446.7L807.8 447.5L808.5 448.4L808.6 446.7L809.3 447.6L809.2 446.8L809.2 445.7L809.8 446.9L810.0 449.4L809.9 447.3L809.8 448.6L810.6 449.9L810.8 448.2L810.7 447.3L811.4 447.1L811.6 448.4L811.8 447.7L811.9 447.0L812.2 448.2L812.2 450.6L813.2 448.9L813.5 448.6L813.5 446.6L814.3 446.7L814.4 445.9L814.0 444.1L814.6 446.1L814.7 444.8L815.4 444.5L816.1 445.9L816.4 446.5L816.6 446.5L816.8 446.4L817.1 448.0L817.7 444.9L818.2 446.2L818.1 445.0L818.5 445.9L818.8 445.2L819.5 446.9L819.1 446.0L819.4 444.8L820.8 444.1L820.8 444.9L821.2 444.6L821.5 447.9L821.7 448.4L821.8 445.4L822.0 447.7L822.1 447.2L823.0 444.8L823.2 445.0L823.1 446.6L823.7 447.9L824.1 447.3L824.4 447.3L824.6 446.8L825.1 447.3L824.9 451.0L825.4 445.7L826.3 447.2L825.7 445.4L825.9 446.3L826.4 444.5L827.2 446.2L827.3 444.4L827.6 444.2L827.9 444.8L827.8 441.1L828.5 446.4L828.7 445.4L828.7 445.1L829.1 443.3L829.3 445.4L829.7 442.9L830.0 443.7L829.8 445.1L831.1 443.1L830.7 441.8L830.9 444.1L831.7 443.9L832.2 441.5L832.2 443.8L832.8 443.6L832.6 442.3L833.4 440.5L833.5 442.4L833.8 441.7L834.3 442.3L834.8 446.7L835.4 442.0L835.9 443.2L835.9 442.8L836.5 442.5L836.1 444.4L836.6 445.2L836.7 445.0L838.0 443.4L838.0 447.0L838.2 442.6L839.1 444.3L839.3 444.2L839.8 444.0L839.6 445.4L840.2 445.0L840.1 445.5L840.5 444.6L840.7 445.7L841.5 447.7L841.9 444.1L841.6 445.3L842.8 444.7L842.3 445.2L843.3 443.3L843.6 444.6L843.9 445.5L844.1 444.6L844.0 445.9L844.5 444.9L845.0 447.5L845.5 445.1L845.8 444.6L846.1 445.0L846.3 444.3L847.2 445.0L847.4 442.5L847.3 444.0L847.8 443.4L848.4 444.6L848.8 445.2L849.0 445.9L849.4 444.1L849.1 444.6L849.5 447.3L849.7 446.3L850.2 447.3L850.1 445.2L850.7 447.9L851.1 448.2L851.7 446.5L852.4 448.0L851.7 446.8L852.4 449.7L852.1 447.8L852.8 447.6L853.3 449.9L853.2 449.9L853.9 451.2L853.7 447.6L853.8 448.6L855.0 452.4L854.4 449.5L855.4 452.1L855.4 450.5L855.7 450.0L856.5 450.6L856.0 450.3L856.3 449.9L857.2 452.0L857.3 450.0L857.9 451.3L858.0 449.5L857.9 452.3L858.4 450.8L859.1 454.6L859.9 451.9L859.2 451.6L860.2 454.4L860.2 452.9L860.5 453.2L860.7 452.8L861.5 452.6L861.5 453.1L861.8 453.1L862.3 454.9L862.5 452.6L863.2 454.2L863.1 454.1L863.9 454.1L863.2 454.6L864.3 455.8L864.4 455.4L865.2 454.9L865.1 455.2L865.0 454.7L865.8 456.5L866.3 456.7L866.6 455.7L866.9 456.1L867.6 455.3L867.6 455.8L868.2 456.0L868.2 454.9L867.9 455.7L868.7 453.6L869.3 453.5L869.8 455.7L869.5 453.6L870.6 456.1L871.1 456.9L871.2 457.0L871.6 457.5L871.5 453.4L872.3 457.9L872.7 456.7L872.7 456.0L873.0 456.5L873.4 456.8L873.4 453.7L874.3 456.4L874.0 457.5L875.2 456.6L875.7 455.4L875.8 455.2L876.6 457.2L876.2 461.1L877.0 457.3L877.0 456.7L877.2 457.6L877.9 456.4L878.0 459.7L878.1 458.5L878.9 459.1L880.0 457.2L878.9 459.5L879.5 459.1L880.2 458.5L880.7 458.7L880.6 459.6L881.1 460.1L881.9 457.5L881.6 457.5L882.2 456.5L882.9 458.0L883.3 456.4L883.2 456.9L883.2 456.0L883.6 457.1L884.5 458.0L884.4 455.7L884.5 457.1L885.3 456.9L885.7 455.6L886.0 458.1L886.2 457.1L886.8 456.9L886.6 454.1L887.0 453.8L887.5 456.6L887.3 454.1L888.3 453.1L888.2 453.5L888.0 453.7L888.3 456.9L889.0 453.6L888.8 452.2L889.5 453.3L890.1 454.3L890.2 452.2L889.8 451.6L890.7 453.5L890.9 451.4L891.3 453.1L891.1 452.4L892.1 453.9L892.6 451.9L892.6 453.1L892.7 455.5L893.1 451.9L893.8 452.5L893.8 453.9L894.7 453.0L894.9 450.9L894.8 450.0L895.0 452.5L896.1 453.3L895.6 453.1L896.5 451.7L896.9 452.3L897.1 452.2L897.4 450.2L897.7 451.6L898.0 450.1L898.8 451.9L899.0 450.8L899.0 449.4L898.9 452.7L899.4 450.8L900.1 451.7L899.6 452.2L900.5 452.3L900.2 451.8L900.7 452.9L900.6 452.7L901.3 454.8L901.2 451.7L901.6 454.6L901.9 455.9L902.3 452.9L901.5 453.3L902.1 458.2L902.5 455.2L903.1 459.1L903.1 457.4L903.3 455.3L903.7 454.9L903.6 454.9L903.6 456.1L904.7 458.1L903.9 458.7L904.1 458.4L904.6 458.3L905.2 457.4L905.1 459.4L905.3 458.9L905.4 458.1L905.9 460.6L906.0 458.0L906.6 462.0L907.1 462.9L906.4 461.8L907.2 464.0L907.0 461.6L907.6 460.0L908.6 462.5L908.2 462.1L908.4 462.3L909.0 459.9L909.4 462.2L910.0 462.0L910.3 461.4L910.7 463.9L911.0 462.0L911.4 460.3L911.8 461.4L912.3 460.2L912.2 462.6L912.5 462.3L913.4 462.2L913.3 461.4L913.9 461.3L914.0 463.2L914.1 462.2L914.9 463.1L915.2 462.1L915.5 463.7L915.9 462.9L915.9 462.2L916.2 463.5L916.7 463.0L916.8 463.4L917.7 464.8L917.7 462.2L918.0 461.9L918.4 462.9L918.9 463.2L919.0 465.0L919.7 462.5L919.6 463.9L920.1 463.2L920.8 461.7L921.5 465.5L920.9 461.0L922.1 464.0L922.4 464.1L922.3 464.4L922.8 463.7L923.5 464.9L923.6 464.3L923.6 466.1L924.0 465.3L924.4 464.5L925.2 463.3L924.9 465.3L925.5 465.3L925.5 466.6L926.3 464.8L926.3 466.7L926.6 465.0L927.1 465.7L927.2 465.5L928.9 463.5L927.8 464.2L928.8 465.7L929.0 466.0L929.7 467.5L929.7 461.1L930.3 465.5L930.4 462.8L930.3 463.1L931.1 463.7L931.1 464.1L932.0 462.6L931.8 466.1L932.3 465.7L932.5 465.4L933.0 465.3L933.4 466.8L933.7 466.6L934.5 466.1L934.3 465.2L935.0 465.0L935.3 464.3L935.2 465.9L935.9 466.9L935.7 468.4L936.1 465.8L936.7 467.0L937.3 464.9L937.1 466.7L937.9 468.3L938.0 466.2L938.2 467.3L939.1 466.5L939.1 467.2L939.0 465.7L940.6 470.8L940.5 466.7L940.3 466.7L941.0 468.6L941.0 465.9L941.4 467.4L941.8 465.2L941.9 465.8L941.7 462.7L941.7 464.4L941.5 465.5L941.9 465.4L942.3 462.4L942.0 463.7L942.0 462.1L942.5 463.6L942.5 462.3L942.4 461.1L942.5 458.5L943.3 460.3L943.6 462.0L943.8 462.4L944.1 461.4L944.3 463.2L944.2 462.9L945.3 462.2L945.2 463.5L946.0 462.9L945.6 463.7L946.3 464.3L946.3 464.6L946.3 464.2L947.5 464.4L947.8 464.7L947.7 464.5L947.9 465.2L948.4 465.3L949.0 467.2L948.7 466.0L949.3 468.3L949.5 467.7L949.4 466.8L950.3 466.2L950.5 466.5L951.2 467.5L951.1 466.4L951.4 468.8L951.6 468.3L952.1 466.8L952.1 467.1L952.8 468.6L952.7 469.5L953.3 468.0L953.4 466.7L953.4 469.0L954.0 467.5L954.2 472.9L955.0 469.3L954.9 469.5L955.1 468.4L955.6 469.7L956.1 468.1L957.0 469.0L957.3 468.4L957.6 471.7L957.8 469.7L957.7 471.4L957.8 471.0L958.8 469.5L959.5 471.0L959.4 469.0L959.6 470.8L959.8 473.9L960.2 471.3L961.0 470.0L960.9 469.7L961.8 470.9L961.6 469.6L961.8 470.2L962.4 469.5L962.9 468.7L963.6 469.1L963.6 469.9L964.3 468.5L964.1 470.5L964.6 472.5L965.0 470.2L965.2 470.9L965.7 471.1L966.1 470.1L966.3 470.9L967.0 470.1L967.1 470.6L967.7 468.7L967.9 468.6L968.4 471.6L968.2 469.3L968.9 469.3L969.2 470.0L969.8 469.1L970.2 470.7L970.6 469.6L970.9 470.3L971.1 467.7L971.7 467.6L971.4 469.7L972.1 469.5L972.1 471.6L972.9 471.7L972.9 470.1L972.9 469.3L973.5 470.4L973.9 469.7L975.0 468.6L974.6 469.5L975.1 473.3L975.3 468.0L975.9 468.7L976.2 468.4L976.0 470.2L976.7 467.2L977.3 469.9L977.9 467.5L977.7 468.3L977.8 469.1L978.2 467.1L978.7 469.2L978.9 467.8L979.4 468.8L979.8 468.8L980.1 466.4L980.3 466.9L980.9 466.4L980.9 467.1L981.3 469.8L982.0 468.0L982.3 466.9L982.6 468.2L982.8 468.4L983.2 464.6L983.1 466.4L984.0 466.3L983.9 467.3L983.7 466.3L984.5 465.2L984.8 465.5L985.0 466.7L985.2 464.6L984.8 464.1L985.1 465.7L985.2 464.3L985.5 462.4L986.4 463.2L986.3 462.2L986.8 461.9L986.5 461.0L987.4 460.3L987.2 463.4L986.9 459.6L987.7 457.6L988.2 461.7L988.2 459.9L989.0 460.2L989.2 459.7L989.1 460.3L988.9 459.3L989.8 459.2L990.2 459.9L990.3 457.6L991.0 459.8L990.6 458.6L991.4 460.3L991.8 457.5L991.6 459.1L992.2 460.6L993.0 459.9L992.9 460.7L993.3 459.8L993.2 457.7L993.2 458.6L994.2 456.4L994.5 461.3L994.7 459.0L995.7 457.5L996.0 457.4L996.0 458.7L996.1 457.1L997.1 458.3L997.3 457.0L997.2 459.0L998.0 457.5L998.3 457.1L999.0 458.5L998.6 456.2L998.7 460.9L999.8 462.4L1000.0 459.6L1000.5 456.1L1000.6 457.6L1000.5 457.8L1001.3 459.1L1001.5 460.7L1001.8 461.1L1001.7 461.0L1002.0 460.3L1002.2 463.8L1002.8 460.3L1003.3 463.0L1003.5 459.9L1003.4 460.3L1003.8 460.9L1003.7 462.4L1004.2 461.1L1004.6 463.3L1005.4 462.5L1005.1 463.6L1006.3 462.3L1006.0 464.4L1006.7 465.0L1006.6 464.8L1007.0 464.1L1007.3 464.4L1007.2 462.1L1007.9 464.1L1008.3 463.5L1008.7 463.7L1008.8 464.6L1009.4 464.2L1009.1 466.4L1009.8 467.9L1010.1 466.0L1010.2 467.0L1010.7 465.8L1010.7 467.6L1011.2 466.2L1011.7 466.2L1012.0 465.7L1012.0 464.7L1012.8 464.8L1012.9 466.2L1013.4 466.8L1014.4 467.0L1014.4 466.0L1014.7 467.0L1014.9 467.1L1014.9 465.7L1015.7 465.0L1015.7 466.7L1015.9 469.2L1016.9 468.7L1017.0 466.8L1017.6 469.5L1017.5 467.0L1017.6 468.0L1018.3 468.5L1018.4 465.8L1018.8 471.6L1019.3 468.5L1019.9 469.1L1019.5 468.9L1019.6 468.3L1020.7 467.5L1021.1 469.1L1021.6 469.3L1021.3 467.3L1021.5 470.7L1022.3 468.1L1022.8 468.2L1022.7 467.5L1023.4 468.7L1024.0 467.2L1024.1 469.8L1024.4 469.2L1024.4 470.4L1024.3 467.6L1025.6 469.9L1026.0 467.8L1025.6 470.4L1026.1 470.0L1026.6 468.7L1026.8 470.3L1027.3 470.6L1027.0 471.1L1027.5 471.5L1028.0 470.8L1028.7 471.2L1029.4 472.8L1029.6 470.1L1029.9 470.3L1030.1 470.4L1030.8 469.7L1030.9 472.0L1030.9 472.2L1031.5 469.5L1031.8 470.8L1032.0 471.7L1032.4 471.3L1033.1 471.1L1033.9 470.7L1033.4 471.9L1034.0 471.5L1034.0 471.3L1034.5 469.9L1034.6 471.7L1035.6 471.7L1035.7 474.5L1036.5 471.6L1036.3 472.2L1036.4 471.1L1037.2 473.0L1037.5 469.7L1037.6 470.5L1038.2 469.8L1038.8 471.5L1039.3 473.2L1039.8 469.7L1039.4 470.1L1039.9 469.3L1040.5 470.3L1041.0 469.7L1040.7 470.6L1041.3 470.2L1041.3 471.7L1042.2 467.4L1042.5 470.1L1043.1 470.2L1043.3 469.0L1043.4 468.0L1044.1 467.6L1044.3 467.7L1044.4 470.6L1044.8 468.7L1044.9 468.8L1045.5 470.8L1046.4 467.4L1046.4 468.7L1047.1 469.8L1046.5 468.6L1046.8 467.3L1047.8 466.7L1048.3 468.3L1047.8 467.7L1048.1 468.0L1048.4 466.1L1049.5 466.8L1050.1 467.5L1050.1 468.6L1050.3 466.5L1050.5 467.9L1050.6 468.8L1050.8 467.9L1051.8 464.6L1051.4 466.8L1051.7 466.2L1051.7 464.9L1052.1 467.3L1052.1 464.9L1052.6 467.0L1053.2 462.2L1053.4 464.2L1053.8 464.4L1053.8 462.4L1054.0 461.4L1053.9 463.3L1054.3 463.6L1054.9 463.9L1054.5 461.0L1054.9 461.9L1055.8 463.0L1055.8 461.2L1056.1 461.5L1056.2 463.9L1056.5 460.7L1056.9 457.9L1057.1 458.8L1057.7 458.8L1057.1 460.1L1058.1 459.8L1058.0 458.3L1058.0 458.6L1058.4 460.5L1058.7 459.0L1059.5 460.1L1059.8 457.1L1059.5 459.0L1059.2 460.7L1060.1 459.2L1060.1 459.0L1059.7 461.0L1061.1 460.1L1060.8 460.3L1062.0 460.0L1061.9 460.2L1062.4 461.3L1062.0 462.5L1062.3 460.6L1063.1 462.7L1063.6 460.8L1063.4 461.2L1063.5 462.7L1063.7 463.0L1063.7 461.4L1064.9 463.2L1064.8 463.7L1065.1 466.6L1064.9 464.9L1065.4 463.3L1065.3 462.6L1065.9 463.7L1065.6 464.9L1066.2 465.4L1066.5 465.8L1067.0 465.8L1067.1 466.2L1067.0 467.8L1066.8 465.9L1067.7 465.8L1067.5 469.8L1068.4 468.2L1067.7 466.7L1068.4 466.6L1068.6 468.9L1069.0 468.5L1069.3 468.8L1069.4 470.0L1069.1 472.0L1069.7 469.8L1070.1 468.5L1070.3 471.7L1070.5 471.9L1071.4 469.9L1071.4 469.9L1071.7 471.9L1072.1 472.4L1072.5 470.7L1072.7 471.3L1072.7 472.3L1073.4 471.4L1074.2 471.7L1074.2 469.6L1074.2 471.6L1074.7 470.5L1075.6 472.0L1075.9 470.0L1075.6 471.1L1076.8 471.1L1076.1 469.7L1077.5 471.0L1077.2 471.0L1077.7 471.5L1078.0 471.2L1077.8 470.3L1078.6 472.0L1079.1 472.3L1079.7 470.8L1079.8 469.2L1080.9 469.8L1080.8 470.5L1080.4 468.2L1081.1 471.3L1081.7 471.1L1081.9 469.4L1082.0 471.9L1082.7 468.8L1083.2 470.7L1083.2 471.2L1084.0 469.2L1083.9 470.9L1084.4 470.8L1084.6 471.9L1085.5 469.6L1085.4 472.3L1085.9 470.9L1086.4 469.9L1087.1 471.3L1086.6 468.3L1086.9 469.9L1087.5 471.0L1087.9 469.8L1088.3 470.3L1088.5 471.2L1089.1 468.8L1089.3 474.3L1089.5 471.6L1090.0 471.6L1090.1 474.2L1091.1 470.1L1091.0 470.7L1091.4 471.1L1092.2 470.7L1091.8 471.1L1092.6 470.0L1092.7 472.9L1093.2 470.1L1094.0 470.1L1093.9 471.3L1094.1 471.3L1094.5 473.4L1095.4 470.9L1095.2 469.2L1095.7 470.0L1096.1 470.6L1096.0 472.3L1096.4 471.7L1097.0 475.3L1097.1 471.3L1097.6 470.8L1097.8 470.3L1098.2 471.0L1098.4 473.6L1099.3 469.9L1098.9 475.5L1099.3 470.4L1100.3 471.7L1100.4 472.5L1101.1 471.2L1101.0 470.2L1101.7 471.3L1101.9 472.2L1102.3 474.3L1103.2 471.0L1102.6 473.7L1103.1 472.4L1103.5 471.3L1104.1 470.7L1104.4 471.4L1104.9 470.7L1104.7 471.7L1105.3 473.6L1106.0 472.5L1106.5 470.5L1106.1 472.8L1107.0 471.1L1107.2 472.9L1107.4 471.8L1107.8 472.6L1108.0 472.0L1108.7 471.3L1109.0 472.4L1109.1 473.2L1109.6 472.1L1109.8 471.2L1110.7 471.0L1110.8 471.9L1111.5 470.7L1111.4 473.1L1112.0 472.3L1111.9 470.0L1112.5 472.2L1113.0 471.8L1113.6 472.9L1113.7 469.7L1113.7 472.5L1114.5 471.6L1114.7 472.5L1115.2 471.2L1115.2 469.6L1115.7 470.9L1116.4 470.9L1116.7 472.4L1116.9 472.6L1117.6 472.8L1117.3 472.0L1118.4 471.4L1118.3 470.8L1119.0 468.0L1119.4 473.1L1119.2 471.3L1120.2 470.7L1119.8 469.9L1120.5 470.8L1121.0 472.4L1121.0 472.5L1121.5 469.7L1121.8 470.9L1121.5 472.3L1123.2 473.7L1123.3 471.8L1122.9 472.4L1123.7 468.9L1123.7 472.3L1123.7 472.7L1124.8 471.6L1124.8 472.2L1125.8 472.7L1125.4 472.9L1126.3 473.8L1126.7 469.6L1126.8 471.3L1126.9 471.3L1127.7 472.3L1127.4 471.9L1127.8 470.7L1128.5 473.6L1128.8 475.3L1129.3 472.6L1129.5 472.8L1129.9 471.4L1130.2 470.9L1130.5 471.6L1130.6 473.1L1131.0 472.1L1131.2 469.6L1132.1 471.9L1132.6 471.8L1132.2 472.1L1132.8 473.7L1133.1 472.6L1133.8 472.9L1134.2 473.3L1134.7 473.5L1134.4 471.6L1135.1 474.5L1135.3 472.9L1136.0 472.9L1136.8 471.1L1136.8 472.7L1136.6 474.2L1137.4 471.1L1137.8 472.0L1138.2 473.0L1138.7 471.2L1138.5 472.3L1139.1 472.2L1139.6 471.4L1140.1 472.5L1140.4 474.0L1139.9 471.8L1140.9 475.4L1141.3 473.2L1141.8 472.0L1142.1 471.9L1142.0 472.4L1143.1 470.5L1143.1 472.4L1143.1 470.8L1143.4 471.7L1144.0 471.9L1144.6 472.2L1144.6 473.4L1145.0 471.9L1145.5 472.5L1145.3 473.1L1146.4 472.9L1147.2 474.8L1146.6 473.7L1146.7 475.3L1147.8 474.5L1147.6 475.0L1148.2 476.1L1148.4 474.9L1149.1 475.8L1149.5 471.4L1149.3 474.7L1150.0 478.1L1150.0 475.6L1150.5 475.2L1151.2 475.5L1151.2 472.7L1151.8 474.5L1152.3 475.3L1151.8 473.7L1152.4 475.1L1153.2 473.3L1153.4 474.1L1154.2 474.0L1154.0 475.6L1154.5 473.7L1154.7 472.5L1155.0 474.9L1154.9 475.4L1155.6 472.8L1155.6 472.4L1156.8 472.1L1156.9 469.8L1157.3 474.2L1157.6 472.9L1157.7 471.7L1158.1 471.8L1158.8 472.7" fill="none" stroke="#00f" stroke-width="2.4" stroke-linejoin="round"/>
<rect x="46.0" y="47.2" width="525.8" height="455.6" fill="none" stroke="#000" stroke-width="2.1"/>
<rect x="633.4" y="47.3" width="525.8" height="456.0" fill="none" stroke="#000" stroke-width="2.1"/>
<line x1="46.0" y1="502.8" x2="46.0" y2="511.3" stroke="#000" stroke-width="2"/>
<line x1="83.6" y1="502.8" x2="83.6" y2="507.3" stroke="#000" stroke-width="2"/>
<line x1="121.1" y1="502.8" x2="121.1" y2="511.3" stroke="#000" stroke-width="2"/>
<line x1="121.1" y1="47.2" x2="121.1" y2="56.2" stroke="#000" stroke-width="2"/>
<line x1="158.7" y1="502.8" x2="158.7" y2="507.3" stroke="#000" stroke-width="2"/>
<line x1="196.2" y1="502.8" x2="196.2" y2="511.3" stroke="#000" stroke-width="2"/>
<line x1="196.2" y1="47.2" x2="196.2" y2="56.2" stroke="#000" stroke-width="2"/>
<line x1="233.8" y1="502.8" x2="233.8" y2="507.3" stroke="#000" stroke-width="2"/>
<line x1="271.3" y1="502.8" x2="271.3" y2="511.3" stroke="#000" stroke-width="2"/>
<line x1="271.3" y1="47.2" x2="271.3" y2="56.2" stroke="#000" stroke-width="2"/>
<line x1="308.9" y1="502.8" x2="308.9" y2="507.3" stroke="#000" stroke-width="2"/>
<line x1="346.5" y1="502.8" x2="346.5" y2="511.3" stroke="#000" stroke-width="2"/>
<line x1="346.5" y1="47.2" x2="346.5" y2="56.2" stroke="#000" stroke-width="2"/>
<line x1="384.0" y1="502.8" x2="384.0" y2="507.3" stroke="#000" stroke-width="2"/>
<line x1="421.6" y1="502.8" x2="421.6" y2="511.3" stroke="#000" stroke-width="2"/>
<line x1="421.6" y1="47.2" x2="421.6" y2="56.2" stroke="#000" stroke-width="2"/>
<line x1="459.1" y1="502.8" x2="459.1" y2="507.3" stroke="#000" stroke-width="2"/>
<line x1="496.7" y1="502.8" x2="496.7" y2="511.3" stroke="#000" stroke-width="2"/>
<line x1="496.7" y1="47.2" x2="496.7" y2="56.2" stroke="#000" stroke-width="2"/>
<line x1="534.2" y1="502.8" x2="534.2" y2="507.3" stroke="#000" stroke-width="2"/>
<line x1="571.8" y1="502.8" x2="571.8" y2="511.3" stroke="#000" stroke-width="2"/>
<line x1="46.0" y1="161.1" x2="50.5" y2="161.1" stroke="#000" stroke-width="2"/>
<line x1="571.8" y1="161.1" x2="567.3" y2="161.1" stroke="#000" stroke-width="2"/>
<line x1="46.0" y1="275.0" x2="54.5" y2="275.0" stroke="#000" stroke-width="2"/>
<line x1="571.8" y1="275.0" x2="563.3" y2="275.0" stroke="#000" stroke-width="2"/>
<line x1="46.0" y1="388.9" x2="50.5" y2="388.9" stroke="#000" stroke-width="2"/>
<line x1="571.8" y1="388.9" x2="567.3" y2="388.9" stroke="#000" stroke-width="2"/>
<line x1="656.6" y1="503.3" x2="656.6" y2="507.8" stroke="#000" stroke-width="2"/>
<line x1="695.3" y1="503.3" x2="695.3" y2="511.8" stroke="#000" stroke-width="2"/>
<line x1="695.3" y1="47.3" x2="695.3" y2="56.3" stroke="#000" stroke-width="2"/>
<line x1="733.9" y1="503.3" x2="733.9" y2="507.8" stroke="#000" stroke-width="2"/>
<line x1="772.6" y1="503.3" x2="772.6" y2="511.8" stroke="#000" stroke-width="2"/>
<line x1="772.6" y1="47.3" x2="772.6" y2="56.3" stroke="#000" stroke-width="2"/>
<line x1="811.2" y1="503.3" x2="811.2" y2="507.8" stroke="#000" stroke-width="2"/>
<line x1="849.9" y1="503.3" x2="849.9" y2="511.8" stroke="#000" stroke-width="2"/>
<line x1="849.9" y1="47.3" x2="849.9" y2="56.3" stroke="#000" stroke-width="2"/>
<line x1="888.6" y1="503.3" x2="888.6" y2="507.8" stroke="#000" stroke-width="2"/>
<line x1="927.2" y1="503.3" x2="927.2" y2="511.8" stroke="#000" stroke-width="2"/>
<line x1="927.2" y1="47.3" x2="927.2" y2="56.3" stroke="#000" stroke-width="2"/>
<line x1="965.9" y1="503.3" x2="965.9" y2="507.8" stroke="#000" stroke-width="2"/>
<line x1="1004.6" y1="503.3" x2="1004.6" y2="511.8" stroke="#000" stroke-width="2"/>
<line x1="1004.6" y1="47.3" x2="1004.6" y2="56.3" stroke="#000" stroke-width="2"/>
<line x1="1043.2" y1="503.3" x2="1043.2" y2="507.8" stroke="#000" stroke-width="2"/>
<line x1="1081.9" y1="503.3" x2="1081.9" y2="511.8" stroke="#000" stroke-width="2"/>
<line x1="1081.9" y1="47.3" x2="1081.9" y2="56.3" stroke="#000" stroke-width="2"/>
<line x1="1120.5" y1="503.3" x2="1120.5" y2="507.8" stroke="#000" stroke-width="2"/>
<line x1="1159.2" y1="503.3" x2="1159.2" y2="511.8" stroke="#000" stroke-width="2"/>
<line x1="633.4" y1="101.0" x2="641.9" y2="101.0" stroke="#000" stroke-width="2"/>
<line x1="1159.2" y1="101.0" x2="1150.7" y2="101.0" stroke="#000" stroke-width="2"/>
<line x1="633.4" y1="154.6" x2="641.9" y2="154.6" stroke="#000" stroke-width="2"/>
<line x1="1159.2" y1="154.6" x2="1150.7" y2="154.6" stroke="#000" stroke-width="2"/>
<line x1="633.4" y1="208.3" x2="641.9" y2="208.3" stroke="#000" stroke-width="2"/>
<line x1="1159.2" y1="208.3" x2="1150.7" y2="208.3" stroke="#000" stroke-width="2"/>
<line x1="633.4" y1="261.9" x2="641.9" y2="261.9" stroke="#000" stroke-width="2"/>
<line x1="1159.2" y1="261.9" x2="1150.7" y2="261.9" stroke="#000" stroke-width="2"/>
<line x1="633.4" y1="315.6" x2="641.9" y2="315.6" stroke="#000" stroke-width="2"/>
<line x1="1159.2" y1="315.6" x2="1150.7" y2="315.6" stroke="#000" stroke-width="2"/>
<line x1="633.4" y1="369.3" x2="641.9" y2="369.3" stroke="#000" stroke-width="2"/>
<line x1="1159.2" y1="369.3" x2="1150.7" y2="369.3" stroke="#000" stroke-width="2"/>
<line x1="633.4" y1="422.9" x2="641.9" y2="422.9" stroke="#000" stroke-width="2"/>
<line x1="1159.2" y1="422.9" x2="1150.7" y2="422.9" stroke="#000" stroke-width="2"/>
<line x1="633.4" y1="476.6" x2="641.9" y2="476.6" stroke="#000" stroke-width="2"/>
<line x1="1159.2" y1="476.6" x2="1150.7" y2="476.6" stroke="#000" stroke-width="2"/>
<path d="M210.6 384.5L215.4 390.3L210.6 396.1L205.8 390.3Z" fill="#f00"/>
<path d="M254.6 418.6L259.4 424.4L254.6 430.2L249.8 424.4Z" fill="#f00"/>
<path d="M318.0 431.2L322.8 437.0L318.0 442.8L313.2 437.0Z" fill="#f00"/>
<path d="M406.9 458.1L411.7 463.9L406.9 469.7L402.1 463.9Z" fill="#f00"/>
<path d="M425.5 457.7L430.3 463.5L425.5 469.3L420.7 463.5Z" fill="#f00"/>
<path d="M475.2 422.0L480.0 427.8L475.2 433.6L470.4 427.8Z" fill="#f00"/>
<circle cx="163.3" cy="430.1" r="3.8" fill="#ff2db4"/>
<circle cx="227.3" cy="427.4" r="3.8" fill="#ff2db4"/>
<circle cx="366.0" cy="463.2" r="3.8" fill="#ff2db4"/>
<line x1="450.60" y1="463.40" x2="450.60" y2="470.60" stroke="#11dd11" stroke-width="1.7" stroke-linecap="round"/><line x1="447.48" y1="465.20" x2="453.72" y2="468.80" stroke="#11dd11" stroke-width="1.7" stroke-linecap="round"/><line x1="447.48" y1="468.80" x2="453.72" y2="465.20" stroke="#11dd11" stroke-width="1.7" stroke-linecap="round"/>
<path d="M476.0 69.8L481.0 75.8L476.0 81.8L471.0 75.8Z" fill="#f00"/>
<line x1="477.30" y1="113.50" x2="477.30" y2="121.30" stroke="#11dd11" stroke-width="1.7" stroke-linecap="round"/><line x1="473.92" y1="115.45" x2="480.68" y2="119.35" stroke="#11dd11" stroke-width="1.7" stroke-linecap="round"/><line x1="473.92" y1="119.35" x2="480.68" y2="115.45" stroke="#11dd11" stroke-width="1.7" stroke-linecap="round"/>
<circle cx="479.9" cy="161.4" r="4.2" fill="#ff2db4"/>
<path d="M636.3 63.0L649.2 63.0L642.8 74.7Z" fill="#bf00cc"/>
<path d="M768.90 340.70L770.92 344.20L774.96 344.20L772.94 347.70L774.96 351.20L770.92 351.20L768.90 354.70L766.88 351.20L762.84 351.20L764.86 347.70L762.84 344.20L766.88 344.20Z" fill="#008000"/>
<path d="M780.6 339.8L785.0 345.6L780.6 351.4L776.2 345.6Z" fill="#f00"/>
<path d="M791.4 306.2L804.2 306.2L797.8 316.6Z" fill="#bf00cc"/>
<path d="M814.1 322.5L826.9 322.5L820.5 333.5Z" fill="#bf00cc"/>
<path d="M834.3 315.9L838.9 321.6L834.3 327.3L829.7 321.6Z" fill="#f00"/>
<path d="M895.6 341.3L900.1 347.1L895.6 352.9L891.1 347.1Z" fill="#f00"/>
<path d="M945.50 352.70L947.52 356.20L951.56 356.20L949.54 359.70L951.56 363.20L947.52 363.20L945.50 366.70L943.48 363.20L939.44 363.20L941.46 359.70L939.44 356.20L943.48 356.20Z" fill="#008000"/>
<path d="M990.5 356.2L1003.1 356.2L996.8 366.6Z" fill="#bf00cc"/>
<path d="M1060.6 358.5L1065.1 364.1L1060.6 369.7L1056.1 364.1Z" fill="#f00"/>
<path d="M642.0 392.8L654.4 392.8L648.2 403.2Z" fill="#bf00cc"/>
<path d="M772.30 439.20L774.32 442.70L778.36 442.70L776.34 446.20L778.36 449.70L774.32 449.70L772.30 453.20L770.28 449.70L766.24 449.70L768.26 446.20L766.24 442.70L770.28 442.70Z" fill="#008000"/>
<path d="M782.8 438.5L787.2 444.2L782.8 449.9L778.4 444.2Z" fill="#f00"/>
<path d="M792.8 422.2L805.4 422.2L799.1 431.8Z" fill="#bf00cc"/>
<path d="M814.8 429.2L826.2 429.2L820.5 439.0Z" fill="#bf00cc"/>
<path d="M831.9 428.2L836.5 433.6L831.9 439.0L827.3 433.6Z" fill="#f00"/>
<path d="M898.7 438.6L903.2 443.9L898.7 449.2L894.2 443.9Z" fill="#f00"/>
<path d="M944.20 440.60L946.28 444.20L950.44 444.20L948.36 447.80L950.44 451.40L946.28 451.40L944.20 455.00L942.12 451.40L937.96 451.40L940.04 447.80L937.96 444.20L942.12 444.20Z" fill="#008000"/>
<path d="M991.8 443.2L1004.4 443.2L998.1 454.2Z" fill="#bf00cc"/>
<path d="M1061.4 442.8L1066.1 448.6L1061.4 454.4L1056.7 448.6Z" fill="#f00"/>
<path d="M1046.8 75.6L1051.8 81.4L1046.8 87.2L1041.8 81.4Z" fill="#f00"/>
<path d="M1041.5 110.1L1054.9 110.1L1048.2 121.8Z" fill="#bf00cc"/>
<path d="M1048.20 140.00L1050.22 143.50L1054.26 143.50L1052.24 147.00L1054.26 150.50L1050.22 150.50L1048.20 154.00L1046.18 150.50L1042.14 150.50L1044.16 147.00L1042.14 143.50L1046.18 143.50Z" fill="#008000"/>
<text x="46.0" y="530.0" font-family='"Liberation Sans", sans-serif' font-size="17.0" font-weight="bold" text-anchor="middle" >10</text>
<text x="121.1" y="530.0" font-family='"Liberation Sans", sans-serif' font-size="17.0" font-weight="bold" text-anchor="middle" >20</text>
<text x="196.2" y="530.0" font-family='"Liberation Sans", sans-serif' font-size="17.0" font-weight="bold" text-anchor="middle" >30</text>
<text x="271.3" y="530.0" font-family='"Liberation Sans", sans-serif' font-size="17.0" font-weight="bold" text-anchor="middle" >40</text>
<text x="346.5" y="530.0" font-family='"Liberation Sans", sans-serif' font-size="17.0" font-weight="bold" text-anchor="middle" >50</text>
<text x="421.6" y="530.0" font-family='"Liberation Sans", sans-serif' font-size="17.0" font-weight="bold" text-anchor="middle" >60</text>
<text x="496.7" y="530.0" font-family='"Liberation Sans", sans-serif' font-size="17.0" font-weight="bold" text-anchor="middle" >70</text>
<text x="571.8" y="530.0" font-family='"Liberation Sans", sans-serif' font-size="17.0" font-weight="bold" text-anchor="middle" >80</text>
<text x="695.3" y="530.0" font-family='"Liberation Sans", sans-serif' font-size="17.0" font-weight="bold" text-anchor="middle" >20</text>
<text x="772.6" y="530.0" font-family='"Liberation Sans", sans-serif' font-size="17.0" font-weight="bold" text-anchor="middle" >30</text>
<text x="849.9" y="530.0" font-family='"Liberation Sans", sans-serif' font-size="17.0" font-weight="bold" text-anchor="middle" >40</text>
<text x="927.2" y="530.0" font-family='"Liberation Sans", sans-serif' font-size="17.0" font-weight="bold" text-anchor="middle" >50</text>
<text x="1004.6" y="530.0" font-family='"Liberation Sans", sans-serif' font-size="17.0" font-weight="bold" text-anchor="middle" >60</text>
<text x="1081.9" y="530.0" font-family='"Liberation Sans", sans-serif' font-size="17.0" font-weight="bold" text-anchor="middle" >70</text>
<text x="1159.2" y="530.0" font-family='"Liberation Sans", sans-serif' font-size="17.0" font-weight="bold" text-anchor="middle" >80</text>
<text x="297.2" y="570.8" text-anchor="middle" font-family='"Liberation Sans", sans-serif' font-size="26" font-weight="bold">2<tspan font-family='"Liberation Serif", serif' font-weight="normal" stroke="#000" stroke-width="0.35">θ</tspan></text>
<text x="896.5" y="570.8" text-anchor="middle" font-family='"Liberation Sans", sans-serif' font-size="26" font-weight="bold">2<tspan font-family='"Liberation Serif", serif' font-weight="normal" stroke="#000" stroke-width="0.35">θ</tspan></text>
<text transform="translate(27.2 281.0) rotate(-90)" text-anchor="middle" font-family='"Liberation Sans", sans-serif' font-size="25.5" font-weight="bold" textLength="169.6" lengthAdjust="spacingAndGlyphs">Intensity (a.u.)</text>
<text transform="translate(612.8 276.4) rotate(-90)" text-anchor="middle" font-family='"Liberation Sans", sans-serif' font-size="25.5" font-weight="bold" textLength="167.8" lengthAdjust="spacingAndGlyphs">Intensity (a.u.)</text>
<text x="24.7" y="34.6" font-family='"Liberation Sans", sans-serif' font-size="34" font-weight="normal" textLength="9.7" lengthAdjust="spacingAndGlyphs">(</text>
<text x="36.8" y="34.6" font-family='"Liberation Sans", sans-serif' font-size="34" font-weight="bold" textLength="16.8" lengthAdjust="spacingAndGlyphs">a</text>
<text x="57.8" y="34.6" font-family='"Liberation Sans", sans-serif' font-size="34" font-weight="normal" textLength="10.3" lengthAdjust="spacingAndGlyphs">)</text>
<text x="611.9" y="34.6" font-family='"Liberation Sans", sans-serif' font-size="34" font-weight="normal" textLength="10.2" lengthAdjust="spacingAndGlyphs">(</text>
<text x="623.9" y="34.6" font-family='"Liberation Sans", sans-serif' font-size="34" font-weight="bold" textLength="21.4" lengthAdjust="spacingAndGlyphs">b</text>
<text x="647.1" y="34.6" font-family='"Liberation Sans", sans-serif' font-size="34" font-weight="normal" textLength="10.6" lengthAdjust="spacingAndGlyphs">)</text>
<text x="537.9" y="251.8" font-family='"Liberation Sans", sans-serif' font-size="21.0" font-weight="bold" text-anchor="start" >US</text>
<text x="536.8" y="474.8" font-family='"Liberation Sans", sans-serif' font-size="21.0" font-weight="bold" text-anchor="start" >PS</text>
<text x="1081.1" y="386.0" font-family='"Liberation Sans", sans-serif' font-size="14.0" font-weight="bold" text-anchor="start" textLength="74.6" lengthAdjust="spacingAndGlyphs">CoMoS/US</text>
<text x="1081.1" y="461.7" font-family='"Liberation Sans", sans-serif' font-size="14.0" font-weight="bold" text-anchor="start" textLength="73.6" lengthAdjust="spacingAndGlyphs">CoMoS/PS</text>
<text x="489.6" y="81.7" font-family='"Liberation Serif", serif' font-size="21.5" stroke="#000" stroke-width="0.45">γ</text>
<rect x="499.4" y="75.60" width="11.1" height="1.4" fill="#333"/>
<text x="509.9" y="81.7" font-family='"Liberation Sans", sans-serif' font-size="21.5" font-weight="bold">Al<tspan font-size="12.8" dy="7.2">2</tspan><tspan dy="-7.2">O</tspan><tspan font-size="12.8" dy="7.2">3</tspan></text>
<text x="488.5" y="124.6" font-family='"Liberation Serif", serif' font-size="21.5" stroke="#000" stroke-width="0.45" textLength="11.4" lengthAdjust="spacingAndGlyphs">θ</text>
<rect x="500.3" y="117.90" width="10.7" height="1.4" fill="#333"/>
<text x="510.9" y="124.6" font-family='"Liberation Sans", sans-serif' font-size="21.5" font-weight="bold">Al<tspan font-size="12.8" dy="7.2">2</tspan><tspan dy="-7.2">O</tspan><tspan font-size="12.8" dy="7.2">3</tspan></text>
<text x="490.1" y="167.6" font-family='"Liberation Serif", serif' font-size="21.5" stroke="#000" stroke-width="0.45" textLength="14.0" lengthAdjust="spacingAndGlyphs">α</text>
<rect x="505.0" y="160.80" width="10.2" height="1.4" fill="#333"/>
<text x="515.2" y="167.6" font-family='"Liberation Sans", sans-serif' font-size="21.5" font-weight="bold">Al<tspan font-size="12.8" dy="7.2">2</tspan><tspan dy="-7.2">O</tspan><tspan font-size="12.8" dy="7.2">3</tspan></text>
<text x="1060.7" y="86.8" font-family='"Liberation Serif", serif' font-size="21.5" stroke="#000" stroke-width="0.45">γ</text>
<rect x="1070.4" y="80.90" width="10.7" height="1.4" fill="#333"/>
<text x="1080.7" y="86.8" font-family='"Liberation Sans", sans-serif' font-size="21.5" font-weight="bold">Al<tspan font-size="12.8" dy="7.8">2</tspan><tspan dy="-7.8">O</tspan><tspan font-size="12.8" dy="7.8">3</tspan></text>
<text x="1064.3" y="121.9" font-family='"Liberation Serif", serif' font-size="21">Mo<tspan dx="1" font-family='"Liberation Sans", sans-serif' font-weight="bold" font-size="21.5">S</tspan><tspan font-family='"Liberation Sans", sans-serif' font-weight="bold" font-size="12.8" dy="7.6">2</tspan></text>
<text x="1063.5" y="154.7" font-family='"Liberation Sans", sans-serif' font-size="21.5" font-weight="bold">Co<tspan font-size="12.8" dy="7.2">9</tspan><tspan dy="-7.2">S</tspan><tspan font-size="12.8" dy="7.2">8</tspan></text>
</svg>
</body></html>
